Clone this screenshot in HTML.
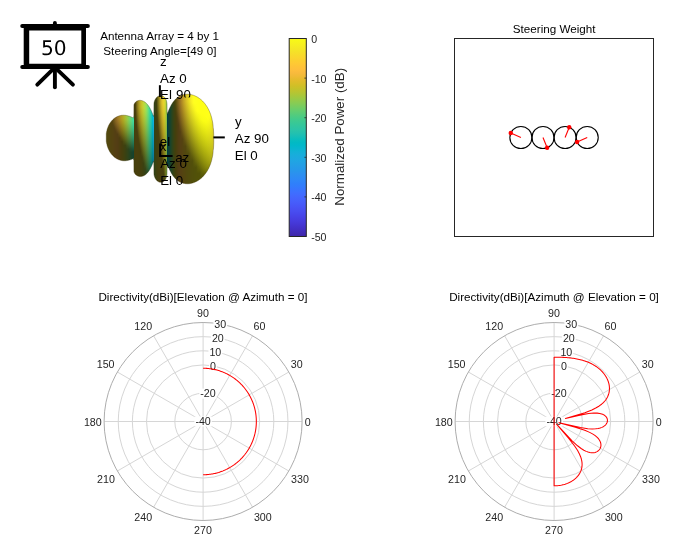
<!DOCTYPE html>
<html lang="en"><head><meta charset="utf-8"><title>Antenna Array Steering</title>
<style>html,body{margin:0;padding:0;background:#fff}svg{display:block;will-change:transform}text{font-family:"Liberation Sans", Arial, Helvetica, sans-serif;fill:#262626}.tk{font-size:10.67px}.tt{font-size:11.66px;fill:#000}.ax{font-size:13.33px;fill:#000}.cb{font-size:10.6px}.cl{font-size:13.33px}</style></head><body>
<svg width="692" height="546" viewBox="0 0 692 546">
<rect width="692" height="546" fill="#fff"/>
<defs><clipPath id="sil"><polygon id="silp" points="106.25,133.73 106.50,132.15 106.75,130.94 107.00,129.95 107.25,129.10 107.50,128.32 107.75,127.63 108.00,126.97 108.25,126.39 108.50,125.83 108.75,125.32 109.00,124.82 109.25,124.37 109.50,123.93 109.75,123.51 110.00,123.11 110.25,122.73 110.50,122.38 110.75,122.03 111.00,121.70 111.25,121.38 111.50,121.08 111.75,120.79 112.00,120.51 112.25,120.24 112.50,119.98 112.75,119.72 113.00,119.48 113.25,119.25 113.50,119.04 113.75,118.82 114.00,118.61 114.25,118.42 114.50,118.22 114.75,118.04 115.00,117.87 115.25,117.70 115.50,117.54 115.75,117.38 116.00,117.23 116.25,117.09 116.50,116.95 116.75,116.82 117.00,116.70 117.25,116.58 117.50,116.46 117.75,116.36 118.00,116.25 118.25,116.16 118.50,116.06 118.75,115.98 119.00,115.89 119.25,115.82 119.50,115.74 119.75,115.68 120.00,115.61 120.25,115.56 120.50,115.50 120.75,115.45 121.00,115.41 121.25,115.37 121.50,115.33 121.75,115.30 122.00,115.28 122.25,115.25 122.50,115.24 122.75,115.22 123.00,115.21 123.25,115.21 123.50,115.20 123.75,115.21 124.00,115.21 124.25,115.22 124.50,115.24 124.75,115.25 125.00,115.27 125.25,115.30 125.50,115.33 125.75,115.36 126.00,115.40 126.25,115.44 126.50,115.48 126.75,115.53 127.00,115.58 127.25,115.63 127.50,115.69 127.75,115.75 128.00,115.82 128.25,115.89 128.50,115.96 128.75,116.03 129.00,116.11 129.25,116.19 129.50,116.28 129.75,116.36 130.00,116.45 130.25,116.55 130.50,116.64 130.75,116.75 131.00,116.85 131.25,116.95 131.50,117.06 131.75,117.17 132.00,117.28 132.25,117.41 132.50,117.52 132.75,117.65 133.00,117.77 133.25,117.90 133.50,118.03 133.75,105.34 134.00,104.52 134.25,103.93 134.50,103.46 134.75,103.07 135.00,102.73 135.25,102.43 135.50,102.17 135.75,101.93 136.00,101.72 136.25,101.53 136.50,101.36 136.75,101.21 137.00,101.07 137.25,100.95 137.50,100.84 137.75,100.75 138.00,100.66 138.25,100.59 138.50,100.53 138.75,100.48 139.00,100.44 139.25,100.40 139.50,100.38 139.75,100.37 140.00,100.37 140.25,100.37 140.50,100.39 140.75,100.41 141.00,100.44 141.25,100.48 141.50,100.53 141.75,100.59 142.00,100.66 142.25,100.74 142.50,100.82 142.75,100.91 143.00,101.02 143.25,101.13 143.50,101.25 143.75,101.38 144.00,101.51 144.25,101.66 144.50,101.82 144.75,101.99 145.00,102.17 145.25,102.35 145.50,102.55 145.75,102.76 146.00,102.98 146.25,103.21 146.50,103.45 146.75,103.71 147.00,103.97 147.25,104.26 147.50,104.55 147.75,104.85 148.00,105.17 148.25,105.51 148.50,105.86 148.75,106.22 149.00,106.60 149.25,106.99 149.50,107.40 149.75,107.83 150.00,108.27 150.25,108.74 150.50,109.22 150.75,109.72 151.00,110.24 151.25,110.77 151.50,111.34 151.75,111.91 152.00,112.50 152.25,113.13 152.50,113.76 152.75,114.43 153.00,115.09 153.25,115.79 153.50,116.50 153.75,104.39 154.00,102.84 154.25,101.82 154.50,101.02 154.75,100.37 155.00,99.81 155.25,99.33 155.50,98.91 155.75,98.53 156.00,98.19 156.25,97.88 156.50,97.60 156.75,97.35 157.00,97.13 157.25,96.92 157.50,96.74 157.75,96.57 158.00,96.42 158.25,96.28 158.50,96.16 158.75,96.06 159.00,95.97 159.25,95.89 159.50,95.82 159.75,95.77 160.00,95.73 160.25,95.70 160.50,95.68 160.75,95.67 161.00,95.67 161.25,95.69 161.50,95.72 161.75,95.76 162.00,95.82 162.25,95.89 162.50,95.97 162.75,96.07 163.00,96.18 163.25,96.31 163.50,96.46 163.75,96.63 164.00,96.82 164.25,97.03 164.50,97.27 164.75,97.54 165.00,97.84 165.25,98.18 165.50,98.57 165.75,99.01 166.00,99.54 166.25,100.16 166.50,100.95 166.75,102.02 167.00,103.96 167.25,114.15 167.50,113.46 167.75,112.77 168.00,112.11 168.25,111.47 168.50,110.84 168.75,110.22 169.00,109.62 169.25,109.05 169.50,108.48 169.75,107.95 170.00,107.41 170.25,106.90 170.50,106.41 170.75,105.93 171.00,105.47 171.25,105.01 171.50,104.57 171.75,104.15 172.00,103.75 172.25,103.35 172.50,102.97 172.75,102.60 173.00,102.24 173.25,101.90 173.50,101.57 173.75,101.25 174.00,100.93 174.25,100.63 174.50,100.34 174.75,100.06 175.00,99.79 175.25,99.52 175.50,99.27 175.75,99.03 176.00,98.79 176.25,98.56 176.50,98.34 176.75,98.13 177.00,97.92 177.25,97.72 177.50,97.53 177.75,97.35 178.00,97.17 178.25,97.00 178.50,96.84 178.75,96.68 179.00,96.52 179.25,96.38 179.50,96.24 179.75,96.10 180.00,95.97 180.25,95.85 180.50,95.73 180.75,95.61 181.00,95.51 181.25,95.40 181.50,95.30 181.75,95.21 182.00,95.12 182.25,95.04 182.50,94.96 182.75,94.88 183.00,94.81 183.25,94.74 183.50,94.68 183.75,94.62 184.00,94.57 184.25,94.52 184.50,94.47 184.75,94.43 185.00,94.39 185.25,94.36 185.50,94.33 185.75,94.30 186.00,94.28 186.25,94.26 186.50,94.25 186.75,94.24 187.00,94.23 187.25,94.23 187.50,94.23 187.75,94.23 188.00,94.24 188.25,94.25 188.50,94.26 188.75,94.28 189.00,94.30 189.25,94.33 189.50,94.36 189.75,94.39 190.00,94.43 190.25,94.46 190.50,94.51 190.75,94.55 191.00,94.60 191.25,94.66 191.50,94.71 191.75,94.77 192.00,94.84 192.25,94.90 192.50,94.97 192.75,95.05 193.00,95.13 193.25,95.21 193.50,95.29 193.75,95.38 194.00,95.47 194.25,95.57 194.50,95.67 194.75,95.77 195.00,95.88 195.25,95.99 195.50,96.10 195.75,96.22 196.00,96.34 196.25,96.47 196.50,96.60 196.75,96.73 197.00,96.87 197.25,97.01 197.50,97.15 197.75,97.30 198.00,97.46 198.25,97.61 198.50,97.78 198.75,97.94 199.00,98.12 199.25,98.29 199.50,98.47 199.75,98.66 200.00,98.85 200.25,99.04 200.50,99.24 200.75,99.45 201.00,99.65 201.25,99.87 201.50,100.09 201.75,100.32 202.00,100.55 202.25,100.79 202.50,101.03 202.75,101.28 203.00,101.54 203.25,101.80 203.50,102.07 203.75,102.34 204.00,102.63 204.25,102.92 204.50,103.22 204.75,103.52 205.00,103.84 205.25,104.16 205.50,104.49 205.75,104.84 206.00,105.19 206.25,105.55 206.50,105.92 206.75,106.30 207.00,106.70 207.25,107.11 207.50,107.53 207.75,107.96 208.00,108.41 208.25,108.88 208.50,109.36 208.75,109.86 209.00,110.38 209.25,110.92 209.50,111.49 209.75,112.08 210.00,112.70 210.25,113.35 210.50,114.03 210.75,114.76 211.00,115.53 211.25,116.34 211.50,117.22 211.75,118.17 212.00,119.21 212.25,120.35 212.50,121.62 212.75,123.08 213.00,124.81 213.25,126.94 213.50,129.86 213.75,135.51 213.75,142.49 213.50,148.14 213.25,151.06 213.00,153.19 212.75,154.92 212.50,156.38 212.25,157.65 212.00,158.79 211.75,159.83 211.50,160.78 211.25,161.66 211.00,162.47 210.75,163.24 210.50,163.97 210.25,164.65 210.00,165.30 209.75,165.92 209.50,166.51 209.25,167.08 209.00,167.62 208.75,168.14 208.50,168.64 208.25,169.12 208.00,169.59 207.75,170.04 207.50,170.47 207.25,170.89 207.00,171.30 206.75,171.70 206.50,172.08 206.25,172.45 206.00,172.81 205.75,173.16 205.50,173.51 205.25,173.84 205.00,174.16 204.75,174.48 204.50,174.78 204.25,175.08 204.00,175.37 203.75,175.66 203.50,175.93 203.25,176.20 203.00,176.46 202.75,176.72 202.50,176.97 202.25,177.21 202.00,177.45 201.75,177.68 201.50,177.91 201.25,178.13 201.00,178.35 200.75,178.55 200.50,178.76 200.25,178.96 200.00,179.15 199.75,179.34 199.50,179.53 199.25,179.71 199.00,179.88 198.75,180.06 198.50,180.22 198.25,180.39 198.00,180.54 197.75,180.70 197.50,180.85 197.25,180.99 197.00,181.13 196.75,181.27 196.50,181.40 196.25,181.53 196.00,181.66 195.75,181.78 195.50,181.90 195.25,182.01 195.00,182.12 194.75,182.23 194.50,182.33 194.25,182.43 194.00,182.53 193.75,182.62 193.50,182.71 193.25,182.79 193.00,182.87 192.75,182.95 192.50,183.03 192.25,183.10 192.00,183.16 191.75,183.23 191.50,183.29 191.25,183.34 191.00,183.40 190.75,183.45 190.50,183.49 190.25,183.54 190.00,183.57 189.75,183.61 189.50,183.64 189.25,183.67 189.00,183.70 188.75,183.72 188.50,183.74 188.25,183.75 188.00,183.76 187.75,183.77 187.50,183.77 187.25,183.77 187.00,183.77 186.75,183.76 186.50,183.75 186.25,183.74 186.00,183.72 185.75,183.70 185.50,183.67 185.25,183.64 185.00,183.61 184.75,183.57 184.50,183.53 184.25,183.48 184.00,183.43 183.75,183.38 183.50,183.32 183.25,183.26 183.00,183.19 182.75,183.12 182.50,183.04 182.25,182.96 182.00,182.88 181.75,182.79 181.50,182.70 181.25,182.60 181.00,182.49 180.75,182.39 180.50,182.27 180.25,182.15 180.00,182.03 179.75,181.90 179.50,181.76 179.25,181.62 179.00,181.48 178.75,181.32 178.50,181.16 178.25,181.00 178.00,180.83 177.75,180.65 177.50,180.47 177.25,180.28 177.00,180.08 176.75,179.87 176.50,179.66 176.25,179.44 176.00,179.21 175.75,178.97 175.50,178.73 175.25,178.48 175.00,178.21 174.75,177.94 174.50,177.66 174.25,177.37 174.00,177.07 173.75,176.75 173.50,176.43 173.25,176.10 173.00,175.76 172.75,175.40 172.50,175.03 172.25,174.65 172.00,174.25 171.75,173.85 171.50,173.43 171.25,172.99 171.00,172.53 170.75,172.07 170.50,171.59 170.25,171.10 170.00,170.59 169.75,170.05 169.50,169.52 169.25,168.95 169.00,168.38 168.75,167.78 168.50,167.16 168.25,166.53 168.00,165.89 167.75,165.23 167.50,164.54 167.25,163.85 167.00,174.04 166.75,175.98 166.50,177.05 166.25,177.84 166.00,178.46 165.75,178.99 165.50,179.43 165.25,179.82 165.00,180.16 164.75,180.46 164.50,180.73 164.25,180.97 164.00,181.18 163.75,181.37 163.50,181.54 163.25,181.69 163.00,181.82 162.75,181.93 162.50,182.03 162.25,182.11 162.00,182.18 161.75,182.24 161.50,182.28 161.25,182.31 161.00,182.33 160.75,182.33 160.50,182.32 160.25,182.30 160.00,182.27 159.75,182.21 159.50,182.15 159.25,182.07 159.00,181.98 158.75,181.87 158.50,181.75 158.25,181.62 158.00,181.47 157.75,181.31 157.50,181.12 157.25,180.92 157.00,180.70 156.75,180.46 156.50,180.20 156.25,179.91 156.00,179.59 155.75,179.23 155.50,178.84 155.25,178.40 155.00,177.90 154.75,177.33 154.50,176.66 154.25,175.86 154.00,174.82 153.75,173.26 153.50,161.13 153.25,161.83 153.00,162.51 152.75,163.16 152.50,163.81 152.25,164.43 152.00,165.04 151.75,165.63 151.50,166.18 151.25,166.73 151.00,167.25 150.75,167.75 150.50,168.24 150.25,168.71 150.00,169.16 149.75,169.59 149.50,170.01 149.25,170.40 149.00,170.78 148.75,171.14 148.50,171.49 148.25,171.83 148.00,172.15 147.75,172.46 147.50,172.74 147.25,173.02 147.00,173.29 146.75,173.54 146.50,173.78 146.25,174.01 146.00,174.23 145.75,174.43 145.50,174.63 145.25,174.81 145.00,174.98 144.75,175.15 144.50,175.30 144.25,175.44 144.00,175.58 143.75,175.70 143.50,175.82 143.25,175.92 143.00,176.02 142.75,176.11 142.50,176.19 142.25,176.26 142.00,176.32 141.75,176.37 141.50,176.42 141.25,176.45 141.00,176.48 140.75,176.50 140.50,176.51 140.25,176.51 140.00,176.50 139.75,176.48 139.50,176.45 139.25,176.42 139.00,176.37 138.75,176.32 138.50,176.25 138.25,176.18 138.00,176.09 137.75,175.99 137.50,175.88 137.25,175.76 137.00,175.62 136.75,175.47 136.50,175.30 136.25,175.12 136.00,174.92 135.75,174.69 135.50,174.44 135.25,174.16 135.00,173.85 134.75,173.50 134.50,173.09 134.25,172.60 134.00,172.00 133.75,171.17 133.50,158.47 133.25,158.58 133.00,158.69 132.75,158.81 132.50,158.92 132.25,159.02 132.00,159.13 131.75,159.22 131.50,159.32 131.25,159.41 131.00,159.51 130.75,159.59 130.50,159.68 130.25,159.76 130.00,159.84 129.75,159.92 129.50,159.99 129.25,160.06 129.00,160.13 128.75,160.19 128.50,160.25 128.25,160.31 128.00,160.37 127.75,160.42 127.50,160.46 127.25,160.51 127.00,160.55 126.75,160.58 126.50,160.62 126.25,160.65 126.00,160.67 125.75,160.69 125.50,160.71 125.25,160.73 125.00,160.74 124.75,160.75 124.50,160.75 124.25,160.75 124.00,160.74 123.75,160.74 123.50,160.72 123.25,160.71 123.00,160.69 122.75,160.66 122.50,160.64 122.25,160.60 122.00,160.57 121.75,160.53 121.50,160.48 121.25,160.43 121.00,160.38 120.75,160.32 120.50,160.25 120.25,160.19 120.00,160.12 119.75,160.04 119.50,159.96 119.25,159.87 119.00,159.78 118.75,159.68 118.50,159.58 118.25,159.47 118.00,159.36 117.75,159.25 117.50,159.12 117.25,158.99 117.00,158.86 116.75,158.72 116.50,158.58 116.25,158.43 116.00,158.27 115.75,158.11 115.50,157.94 115.25,157.76 115.00,157.58 114.75,157.39 114.50,157.19 114.25,156.99 114.00,156.77 113.75,156.56 113.50,156.33 113.25,156.09 113.00,155.85 112.75,155.59 112.50,155.33 112.25,155.05 112.00,154.77 111.75,154.47 111.50,154.17 111.25,153.85 111.00,153.52 110.75,153.18 110.50,152.81 110.25,152.44 110.00,152.05 109.75,151.64 109.50,151.21 109.25,150.75 109.00,150.28 108.75,149.77 108.50,149.24 108.25,148.67 108.00,148.07 107.75,147.41 107.50,146.70 107.25,145.91 107.00,145.05 106.75,144.04 106.50,142.81 106.25,141.22"/></clipPath><linearGradient id="g0" gradientUnits="userSpaceOnUse" x1="0" y1="132.15" x2="0" y2="142.81"><stop offset="0.000" stop-color="#51490e"/><stop offset="0.083" stop-color="#51490e"/><stop offset="0.167" stop-color="#51490e"/><stop offset="0.250" stop-color="#51490e"/><stop offset="0.333" stop-color="#51490e"/><stop offset="0.417" stop-color="#51490e"/><stop offset="0.500" stop-color="#51490e"/><stop offset="0.583" stop-color="#51490e"/><stop offset="0.667" stop-color="#51490e"/><stop offset="0.750" stop-color="#51490e"/><stop offset="0.833" stop-color="#51490e"/><stop offset="0.917" stop-color="#51490e"/><stop offset="1.000" stop-color="#51490e"/></linearGradient><linearGradient id="g1" gradientUnits="userSpaceOnUse" x1="0" y1="128.32" x2="0" y2="146.70"><stop offset="0.000" stop-color="#52480e"/><stop offset="0.083" stop-color="#52480e"/><stop offset="0.167" stop-color="#52480e"/><stop offset="0.250" stop-color="#52480e"/><stop offset="0.333" stop-color="#52480e"/><stop offset="0.417" stop-color="#52480e"/><stop offset="0.500" stop-color="#52480e"/><stop offset="0.583" stop-color="#52480e"/><stop offset="0.667" stop-color="#52480e"/><stop offset="0.750" stop-color="#52480e"/><stop offset="0.833" stop-color="#52480e"/><stop offset="0.917" stop-color="#52480e"/><stop offset="1.000" stop-color="#52480e"/></linearGradient><linearGradient id="g2" gradientUnits="userSpaceOnUse" x1="0" y1="125.83" x2="0" y2="149.24"><stop offset="0.000" stop-color="#52470e"/><stop offset="0.083" stop-color="#52470e"/><stop offset="0.167" stop-color="#52470e"/><stop offset="0.250" stop-color="#52470e"/><stop offset="0.333" stop-color="#52470e"/><stop offset="0.417" stop-color="#52470e"/><stop offset="0.500" stop-color="#52470e"/><stop offset="0.583" stop-color="#52470e"/><stop offset="0.667" stop-color="#52470e"/><stop offset="0.750" stop-color="#52470e"/><stop offset="0.833" stop-color="#52470e"/><stop offset="0.917" stop-color="#52470e"/><stop offset="1.000" stop-color="#52470e"/></linearGradient><linearGradient id="g3" gradientUnits="userSpaceOnUse" x1="0" y1="123.93" x2="0" y2="151.21"><stop offset="0.000" stop-color="#52460f"/><stop offset="0.083" stop-color="#52460f"/><stop offset="0.167" stop-color="#52460f"/><stop offset="0.250" stop-color="#52460f"/><stop offset="0.333" stop-color="#52460f"/><stop offset="0.417" stop-color="#52460f"/><stop offset="0.500" stop-color="#52460f"/><stop offset="0.583" stop-color="#52460f"/><stop offset="0.667" stop-color="#52460f"/><stop offset="0.750" stop-color="#52460f"/><stop offset="0.833" stop-color="#52460f"/><stop offset="0.917" stop-color="#52460f"/><stop offset="1.000" stop-color="#52460f"/></linearGradient><linearGradient id="g4" gradientUnits="userSpaceOnUse" x1="0" y1="122.38" x2="0" y2="152.81"><stop offset="0.000" stop-color="#534510"/><stop offset="0.083" stop-color="#534510"/><stop offset="0.167" stop-color="#534510"/><stop offset="0.250" stop-color="#534510"/><stop offset="0.333" stop-color="#534510"/><stop offset="0.417" stop-color="#534510"/><stop offset="0.500" stop-color="#534510"/><stop offset="0.583" stop-color="#534510"/><stop offset="0.667" stop-color="#534510"/><stop offset="0.750" stop-color="#534510"/><stop offset="0.833" stop-color="#534510"/><stop offset="0.917" stop-color="#534510"/><stop offset="1.000" stop-color="#534510"/></linearGradient><linearGradient id="g5" gradientUnits="userSpaceOnUse" x1="0" y1="121.08" x2="0" y2="154.17"><stop offset="0.000" stop-color="#534410"/><stop offset="0.083" stop-color="#534410"/><stop offset="0.167" stop-color="#534410"/><stop offset="0.250" stop-color="#534410"/><stop offset="0.333" stop-color="#534410"/><stop offset="0.417" stop-color="#534410"/><stop offset="0.500" stop-color="#534410"/><stop offset="0.583" stop-color="#534410"/><stop offset="0.667" stop-color="#534410"/><stop offset="0.750" stop-color="#534410"/><stop offset="0.833" stop-color="#534410"/><stop offset="0.917" stop-color="#534410"/><stop offset="1.000" stop-color="#534410"/></linearGradient><linearGradient id="g6" gradientUnits="userSpaceOnUse" x1="0" y1="119.98" x2="0" y2="155.33"><stop offset="0.000" stop-color="#574612"/><stop offset="0.083" stop-color="#564411"/><stop offset="0.167" stop-color="#544311"/><stop offset="0.250" stop-color="#544311"/><stop offset="0.333" stop-color="#544311"/><stop offset="0.417" stop-color="#544311"/><stop offset="0.500" stop-color="#544311"/><stop offset="0.583" stop-color="#544311"/><stop offset="0.667" stop-color="#544311"/><stop offset="0.750" stop-color="#544311"/><stop offset="0.833" stop-color="#544311"/><stop offset="0.917" stop-color="#544311"/><stop offset="1.000" stop-color="#544311"/></linearGradient><linearGradient id="g7" gradientUnits="userSpaceOnUse" x1="0" y1="119.04" x2="0" y2="156.33"><stop offset="0.000" stop-color="#665016"/><stop offset="0.083" stop-color="#654f15"/><stop offset="0.167" stop-color="#584513"/><stop offset="0.250" stop-color="#544212"/><stop offset="0.333" stop-color="#544212"/><stop offset="0.417" stop-color="#544212"/><stop offset="0.500" stop-color="#544212"/><stop offset="0.583" stop-color="#544212"/><stop offset="0.667" stop-color="#544212"/><stop offset="0.750" stop-color="#544212"/><stop offset="0.833" stop-color="#544212"/><stop offset="0.917" stop-color="#544212"/><stop offset="1.000" stop-color="#544212"/></linearGradient><linearGradient id="g8" gradientUnits="userSpaceOnUse" x1="0" y1="118.22" x2="0" y2="157.19"><stop offset="0.000" stop-color="#755a1a"/><stop offset="0.083" stop-color="#73591a"/><stop offset="0.167" stop-color="#664e17"/><stop offset="0.250" stop-color="#574213"/><stop offset="0.333" stop-color="#544013"/><stop offset="0.417" stop-color="#544013"/><stop offset="0.500" stop-color="#544013"/><stop offset="0.583" stop-color="#544013"/><stop offset="0.667" stop-color="#544013"/><stop offset="0.750" stop-color="#544013"/><stop offset="0.833" stop-color="#544013"/><stop offset="0.917" stop-color="#544013"/><stop offset="1.000" stop-color="#544013"/></linearGradient><linearGradient id="g9" gradientUnits="userSpaceOnUse" x1="0" y1="117.54" x2="0" y2="157.94"><stop offset="0.000" stop-color="#83631f"/><stop offset="0.083" stop-color="#82621e"/><stop offset="0.167" stop-color="#74571b"/><stop offset="0.250" stop-color="#634b17"/><stop offset="0.333" stop-color="#543f13"/><stop offset="0.417" stop-color="#543f13"/><stop offset="0.500" stop-color="#543f13"/><stop offset="0.583" stop-color="#543f13"/><stop offset="0.667" stop-color="#543f13"/><stop offset="0.750" stop-color="#543f13"/><stop offset="0.833" stop-color="#543f13"/><stop offset="0.917" stop-color="#543f13"/><stop offset="1.000" stop-color="#543f13"/></linearGradient><linearGradient id="g10" gradientUnits="userSpaceOnUse" x1="0" y1="116.95" x2="0" y2="158.58"><stop offset="0.000" stop-color="#906c23"/><stop offset="0.083" stop-color="#8e6a22"/><stop offset="0.167" stop-color="#80601f"/><stop offset="0.250" stop-color="#6f531b"/><stop offset="0.333" stop-color="#5c4516"/><stop offset="0.417" stop-color="#533e14"/><stop offset="0.500" stop-color="#533e14"/><stop offset="0.583" stop-color="#533e14"/><stop offset="0.667" stop-color="#533e14"/><stop offset="0.750" stop-color="#533e14"/><stop offset="0.833" stop-color="#533e14"/><stop offset="0.917" stop-color="#533e14"/><stop offset="1.000" stop-color="#533e14"/></linearGradient><linearGradient id="g11" gradientUnits="userSpaceOnUse" x1="0" y1="116.46" x2="0" y2="159.12"><stop offset="0.000" stop-color="#9b7526"/><stop offset="0.083" stop-color="#997325"/><stop offset="0.167" stop-color="#8a6822"/><stop offset="0.250" stop-color="#795b1e"/><stop offset="0.333" stop-color="#664d19"/><stop offset="0.417" stop-color="#523e14"/><stop offset="0.500" stop-color="#523d14"/><stop offset="0.583" stop-color="#523d14"/><stop offset="0.667" stop-color="#523d14"/><stop offset="0.750" stop-color="#523d14"/><stop offset="0.833" stop-color="#523d14"/><stop offset="0.917" stop-color="#523d14"/><stop offset="1.000" stop-color="#523d14"/></linearGradient><linearGradient id="g12" gradientUnits="userSpaceOnUse" x1="0" y1="116.06" x2="0" y2="159.58"><stop offset="0.000" stop-color="#a47e25"/><stop offset="0.083" stop-color="#a27d25"/><stop offset="0.167" stop-color="#937122"/><stop offset="0.250" stop-color="#81641e"/><stop offset="0.333" stop-color="#6e5519"/><stop offset="0.417" stop-color="#5a4515"/><stop offset="0.500" stop-color="#503d12"/><stop offset="0.583" stop-color="#503d12"/><stop offset="0.667" stop-color="#503d12"/><stop offset="0.750" stop-color="#503d12"/><stop offset="0.833" stop-color="#503d12"/><stop offset="0.917" stop-color="#503d12"/><stop offset="1.000" stop-color="#503d12"/></linearGradient><linearGradient id="g13" gradientUnits="userSpaceOnUse" x1="0" y1="115.74" x2="0" y2="159.96"><stop offset="0.000" stop-color="#ab8824"/><stop offset="0.083" stop-color="#a98623"/><stop offset="0.167" stop-color="#9a7b20"/><stop offset="0.250" stop-color="#896d1d"/><stop offset="0.333" stop-color="#765e19"/><stop offset="0.417" stop-color="#614d14"/><stop offset="0.500" stop-color="#4d3e10"/><stop offset="0.583" stop-color="#4d3e10"/><stop offset="0.667" stop-color="#4d3e10"/><stop offset="0.750" stop-color="#4d3e10"/><stop offset="0.833" stop-color="#4d3e10"/><stop offset="0.917" stop-color="#4d3e10"/><stop offset="1.000" stop-color="#4d3e10"/></linearGradient><linearGradient id="g14" gradientUnits="userSpaceOnUse" x1="0" y1="115.50" x2="0" y2="160.25"><stop offset="0.000" stop-color="#b09222"/><stop offset="0.083" stop-color="#ae9022"/><stop offset="0.167" stop-color="#a0841f"/><stop offset="0.250" stop-color="#8e761b"/><stop offset="0.333" stop-color="#7c6618"/><stop offset="0.417" stop-color="#685614"/><stop offset="0.500" stop-color="#534410"/><stop offset="0.583" stop-color="#4b3e0e"/><stop offset="0.667" stop-color="#4b3e0e"/><stop offset="0.750" stop-color="#4b3e0e"/><stop offset="0.833" stop-color="#4b3e0e"/><stop offset="0.917" stop-color="#4b3e0e"/><stop offset="1.000" stop-color="#4b3e0e"/></linearGradient><linearGradient id="g15" gradientUnits="userSpaceOnUse" x1="0" y1="115.33" x2="0" y2="160.48"><stop offset="0.000" stop-color="#b39b21"/><stop offset="0.083" stop-color="#b19a21"/><stop offset="0.167" stop-color="#a38d1e"/><stop offset="0.250" stop-color="#927f1b"/><stop offset="0.333" stop-color="#806f18"/><stop offset="0.417" stop-color="#6c5e14"/><stop offset="0.500" stop-color="#584c10"/><stop offset="0.583" stop-color="#483e0d"/><stop offset="0.667" stop-color="#483e0d"/><stop offset="0.750" stop-color="#483e0d"/><stop offset="0.833" stop-color="#483e0d"/><stop offset="0.917" stop-color="#483e0d"/><stop offset="1.000" stop-color="#483e0d"/></linearGradient><linearGradient id="g16" gradientUnits="userSpaceOnUse" x1="0" y1="115.24" x2="0" y2="160.64"><stop offset="0.000" stop-color="#b4a522"/><stop offset="0.083" stop-color="#b2a321"/><stop offset="0.167" stop-color="#a5971f"/><stop offset="0.250" stop-color="#94881c"/><stop offset="0.333" stop-color="#837718"/><stop offset="0.417" stop-color="#706615"/><stop offset="0.500" stop-color="#5c5411"/><stop offset="0.583" stop-color="#47410d"/><stop offset="0.667" stop-color="#453f0d"/><stop offset="0.750" stop-color="#453f0d"/><stop offset="0.833" stop-color="#453f0d"/><stop offset="0.917" stop-color="#453f0d"/><stop offset="1.000" stop-color="#453f0d"/></linearGradient><linearGradient id="g17" gradientUnits="userSpaceOnUse" x1="0" y1="115.20" x2="0" y2="160.72"><stop offset="0.000" stop-color="#b3ae25"/><stop offset="0.083" stop-color="#b1ac25"/><stop offset="0.167" stop-color="#a49f22"/><stop offset="0.250" stop-color="#94901f"/><stop offset="0.333" stop-color="#83801c"/><stop offset="0.417" stop-color="#716e18"/><stop offset="0.500" stop-color="#5e5c14"/><stop offset="0.583" stop-color="#4b4910"/><stop offset="0.667" stop-color="#42400e"/><stop offset="0.750" stop-color="#42400e"/><stop offset="0.833" stop-color="#42400e"/><stop offset="0.917" stop-color="#42400e"/><stop offset="1.000" stop-color="#42400e"/></linearGradient><linearGradient id="g18" gradientUnits="userSpaceOnUse" x1="0" y1="115.24" x2="0" y2="160.75"><stop offset="0.000" stop-color="#afb72c"/><stop offset="0.083" stop-color="#adb52c"/><stop offset="0.167" stop-color="#a1a829"/><stop offset="0.250" stop-color="#929925"/><stop offset="0.333" stop-color="#828821"/><stop offset="0.417" stop-color="#71761d"/><stop offset="0.500" stop-color="#5f6418"/><stop offset="0.583" stop-color="#4d5013"/><stop offset="0.667" stop-color="#3e4110"/><stop offset="0.750" stop-color="#3e4110"/><stop offset="0.833" stop-color="#3e4110"/><stop offset="0.917" stop-color="#3e4110"/><stop offset="1.000" stop-color="#3e4110"/></linearGradient><linearGradient id="g19" gradientUnits="userSpaceOnUse" x1="0" y1="115.33" x2="0" y2="160.71"><stop offset="0.000" stop-color="#a8bf35"/><stop offset="0.083" stop-color="#a7bd34"/><stop offset="0.167" stop-color="#9bb031"/><stop offset="0.250" stop-color="#8ea12c"/><stop offset="0.333" stop-color="#7f9028"/><stop offset="0.417" stop-color="#6f7e23"/><stop offset="0.500" stop-color="#5f6b1e"/><stop offset="0.583" stop-color="#4d5718"/><stop offset="0.667" stop-color="#3b4312"/><stop offset="0.750" stop-color="#3a4112"/><stop offset="0.833" stop-color="#3a4112"/><stop offset="0.917" stop-color="#3a4112"/><stop offset="1.000" stop-color="#3a4112"/></linearGradient><linearGradient id="g20" gradientUnits="userSpaceOnUse" x1="0" y1="115.48" x2="0" y2="160.62"><stop offset="0.000" stop-color="#a0c63f"/><stop offset="0.083" stop-color="#9ec43f"/><stop offset="0.167" stop-color="#94b73a"/><stop offset="0.250" stop-color="#87a835"/><stop offset="0.333" stop-color="#7a9730"/><stop offset="0.417" stop-color="#6b852a"/><stop offset="0.500" stop-color="#5c7224"/><stop offset="0.583" stop-color="#4c5e1e"/><stop offset="0.667" stop-color="#3b4a18"/><stop offset="0.750" stop-color="#354215"/><stop offset="0.833" stop-color="#354215"/><stop offset="0.917" stop-color="#354215"/><stop offset="1.000" stop-color="#354215"/></linearGradient><linearGradient id="g21" gradientUnits="userSpaceOnUse" x1="0" y1="115.69" x2="0" y2="160.46"><stop offset="0.000" stop-color="#95cd4c"/><stop offset="0.083" stop-color="#94cb4b"/><stop offset="0.167" stop-color="#8abe46"/><stop offset="0.250" stop-color="#7fae40"/><stop offset="0.333" stop-color="#739d3a"/><stop offset="0.417" stop-color="#668c34"/><stop offset="0.500" stop-color="#58792d"/><stop offset="0.583" stop-color="#4a6525"/><stop offset="0.667" stop-color="#3b501e"/><stop offset="0.750" stop-color="#314319"/><stop offset="0.833" stop-color="#314319"/><stop offset="0.917" stop-color="#314319"/><stop offset="1.000" stop-color="#314319"/></linearGradient><linearGradient id="g22" gradientUnits="userSpaceOnUse" x1="0" y1="115.96" x2="0" y2="160.25"><stop offset="0.000" stop-color="#88d259"/><stop offset="0.083" stop-color="#87d058"/><stop offset="0.167" stop-color="#7fc353"/><stop offset="0.250" stop-color="#75b44c"/><stop offset="0.333" stop-color="#6aa345"/><stop offset="0.417" stop-color="#5e913d"/><stop offset="0.500" stop-color="#527f36"/><stop offset="0.583" stop-color="#456b2d"/><stop offset="0.667" stop-color="#385625"/><stop offset="0.750" stop-color="#2c431c"/><stop offset="0.833" stop-color="#2c431c"/><stop offset="0.917" stop-color="#2c431c"/><stop offset="1.000" stop-color="#2c431c"/></linearGradient><linearGradient id="g23" gradientUnits="userSpaceOnUse" x1="0" y1="116.28" x2="0" y2="159.99"><stop offset="0.000" stop-color="#7ad667"/><stop offset="0.083" stop-color="#79d566"/><stop offset="0.167" stop-color="#71c85f"/><stop offset="0.250" stop-color="#69b858"/><stop offset="0.333" stop-color="#5fa850"/><stop offset="0.417" stop-color="#559648"/><stop offset="0.500" stop-color="#4b843f"/><stop offset="0.583" stop-color="#407036"/><stop offset="0.667" stop-color="#345c2c"/><stop offset="0.750" stop-color="#284722"/><stop offset="0.833" stop-color="#264320"/><stop offset="0.917" stop-color="#264320"/><stop offset="1.000" stop-color="#264320"/></linearGradient><linearGradient id="g24" gradientUnits="userSpaceOnUse" x1="0" y1="116.64" x2="0" y2="159.68"><stop offset="0.000" stop-color="#6bd975"/><stop offset="0.083" stop-color="#6ad874"/><stop offset="0.167" stop-color="#64cb6d"/><stop offset="0.250" stop-color="#5dbc65"/><stop offset="0.333" stop-color="#54ac5c"/><stop offset="0.417" stop-color="#4c9a53"/><stop offset="0.500" stop-color="#438849"/><stop offset="0.583" stop-color="#3a753f"/><stop offset="0.667" stop-color="#306134"/><stop offset="0.750" stop-color="#254c29"/><stop offset="0.833" stop-color="#214424"/><stop offset="0.917" stop-color="#214424"/><stop offset="1.000" stop-color="#214424"/></linearGradient><linearGradient id="g25" gradientUnits="userSpaceOnUse" x1="0" y1="117.06" x2="0" y2="159.32"><stop offset="0.000" stop-color="#5cdb84"/><stop offset="0.083" stop-color="#5cd983"/><stop offset="0.167" stop-color="#56cd7b"/><stop offset="0.250" stop-color="#50be72"/><stop offset="0.333" stop-color="#4aae69"/><stop offset="0.417" stop-color="#429d5e"/><stop offset="0.500" stop-color="#3b8b54"/><stop offset="0.583" stop-color="#337948"/><stop offset="0.667" stop-color="#2b653d"/><stop offset="0.750" stop-color="#225030"/><stop offset="0.833" stop-color="#1c4328"/><stop offset="0.917" stop-color="#1c4328"/><stop offset="1.000" stop-color="#1c4328"/></linearGradient><linearGradient id="g26" gradientUnits="userSpaceOnUse" x1="0" y1="117.52" x2="0" y2="158.92"><stop offset="0.000" stop-color="#4edc91"/><stop offset="0.083" stop-color="#4dda90"/><stop offset="0.167" stop-color="#49ce88"/><stop offset="0.250" stop-color="#44bf7f"/><stop offset="0.333" stop-color="#3eb074"/><stop offset="0.417" stop-color="#389f69"/><stop offset="0.500" stop-color="#328e5e"/><stop offset="0.583" stop-color="#2c7b52"/><stop offset="0.667" stop-color="#256845"/><stop offset="0.750" stop-color="#1e5438"/><stop offset="0.833" stop-color="#18432c"/><stop offset="0.917" stop-color="#18432c"/><stop offset="1.000" stop-color="#18432c"/></linearGradient><linearGradient id="g27" gradientUnits="userSpaceOnUse" x1="0" y1="118.03" x2="0" y2="158.47"><stop offset="0.000" stop-color="#41db9e"/><stop offset="0.083" stop-color="#41da9d"/><stop offset="0.167" stop-color="#3dce95"/><stop offset="0.250" stop-color="#39c08b"/><stop offset="0.333" stop-color="#35b080"/><stop offset="0.417" stop-color="#30a074"/><stop offset="0.500" stop-color="#2b8f68"/><stop offset="0.583" stop-color="#257d5b"/><stop offset="0.667" stop-color="#206b4d"/><stop offset="0.750" stop-color="#1a573f"/><stop offset="0.833" stop-color="#144230"/><stop offset="0.917" stop-color="#144230"/><stop offset="1.000" stop-color="#144230"/></linearGradient><linearGradient id="g28" gradientUnits="userSpaceOnUse" x1="0" y1="103.46" x2="0" y2="173.09"><stop offset="0.000" stop-color="#453f0d"/><stop offset="0.083" stop-color="#453f0d"/><stop offset="0.167" stop-color="#453f0d"/><stop offset="0.250" stop-color="#453f0d"/><stop offset="0.333" stop-color="#453f0d"/><stop offset="0.417" stop-color="#453f0d"/><stop offset="0.500" stop-color="#453f0d"/><stop offset="0.583" stop-color="#453f0d"/><stop offset="0.667" stop-color="#453f0d"/><stop offset="0.750" stop-color="#453f0d"/><stop offset="0.833" stop-color="#453f0d"/><stop offset="0.917" stop-color="#453f0d"/><stop offset="1.000" stop-color="#453f0d"/></linearGradient><linearGradient id="g29" gradientUnits="userSpaceOnUse" x1="0" y1="102.17" x2="0" y2="174.44"><stop offset="0.000" stop-color="#4c430e"/><stop offset="0.083" stop-color="#4b420e"/><stop offset="0.167" stop-color="#473f0d"/><stop offset="0.250" stop-color="#473f0d"/><stop offset="0.333" stop-color="#473f0d"/><stop offset="0.417" stop-color="#473f0d"/><stop offset="0.500" stop-color="#473f0d"/><stop offset="0.583" stop-color="#473f0d"/><stop offset="0.667" stop-color="#473f0d"/><stop offset="0.750" stop-color="#473f0d"/><stop offset="0.833" stop-color="#473f0d"/><stop offset="0.917" stop-color="#473f0d"/><stop offset="1.000" stop-color="#473f0d"/></linearGradient><linearGradient id="g30" gradientUnits="userSpaceOnUse" x1="0" y1="101.36" x2="0" y2="175.30"><stop offset="0.000" stop-color="#6f6115"/><stop offset="0.083" stop-color="#6e6014"/><stop offset="0.167" stop-color="#625512"/><stop offset="0.250" stop-color="#544910"/><stop offset="0.333" stop-color="#483f0d"/><stop offset="0.417" stop-color="#483f0d"/><stop offset="0.500" stop-color="#483f0d"/><stop offset="0.583" stop-color="#483f0d"/><stop offset="0.667" stop-color="#483f0d"/><stop offset="0.750" stop-color="#483f0d"/><stop offset="0.833" stop-color="#483f0d"/><stop offset="0.917" stop-color="#483f0d"/><stop offset="1.000" stop-color="#483f0d"/></linearGradient><linearGradient id="g31" gradientUnits="userSpaceOnUse" x1="0" y1="100.84" x2="0" y2="175.88"><stop offset="0.000" stop-color="#8d7b1a"/><stop offset="0.083" stop-color="#8b791a"/><stop offset="0.167" stop-color="#7e6e17"/><stop offset="0.250" stop-color="#6e6014"/><stop offset="0.333" stop-color="#5d5111"/><stop offset="0.417" stop-color="#4b420e"/><stop offset="0.500" stop-color="#483f0d"/><stop offset="0.583" stop-color="#483f0d"/><stop offset="0.667" stop-color="#483f0d"/><stop offset="0.750" stop-color="#483f0d"/><stop offset="0.833" stop-color="#483f0d"/><stop offset="0.917" stop-color="#483f0d"/><stop offset="1.000" stop-color="#483f0d"/></linearGradient><linearGradient id="g32" gradientUnits="userSpaceOnUse" x1="0" y1="100.53" x2="0" y2="176.25"><stop offset="0.000" stop-color="#a4911f"/><stop offset="0.083" stop-color="#a28f1e"/><stop offset="0.167" stop-color="#94831c"/><stop offset="0.250" stop-color="#847519"/><stop offset="0.333" stop-color="#726515"/><stop offset="0.417" stop-color="#605412"/><stop offset="0.500" stop-color="#4c430e"/><stop offset="0.583" stop-color="#473f0d"/><stop offset="0.667" stop-color="#473f0d"/><stop offset="0.750" stop-color="#473f0d"/><stop offset="0.833" stop-color="#473f0d"/><stop offset="0.917" stop-color="#473f0d"/><stop offset="1.000" stop-color="#473f0d"/></linearGradient><linearGradient id="g33" gradientUnits="userSpaceOnUse" x1="0" y1="100.38" x2="0" y2="176.45"><stop offset="0.000" stop-color="#b6a422"/><stop offset="0.083" stop-color="#b4a322"/><stop offset="0.167" stop-color="#a6961f"/><stop offset="0.250" stop-color="#96871c"/><stop offset="0.333" stop-color="#847719"/><stop offset="0.417" stop-color="#716615"/><stop offset="0.500" stop-color="#5d5411"/><stop offset="0.583" stop-color="#48410d"/><stop offset="0.667" stop-color="#463f0d"/><stop offset="0.750" stop-color="#463f0d"/><stop offset="0.833" stop-color="#463f0d"/><stop offset="0.917" stop-color="#463f0d"/><stop offset="1.000" stop-color="#463f0d"/></linearGradient><linearGradient id="g34" gradientUnits="userSpaceOnUse" x1="0" y1="100.39" x2="0" y2="176.51"><stop offset="0.000" stop-color="#c2b526"/><stop offset="0.083" stop-color="#c0b325"/><stop offset="0.167" stop-color="#b2a623"/><stop offset="0.250" stop-color="#a2971f"/><stop offset="0.333" stop-color="#91871c"/><stop offset="0.417" stop-color="#7e7518"/><stop offset="0.500" stop-color="#6a6315"/><stop offset="0.583" stop-color="#565011"/><stop offset="0.667" stop-color="#443f0d"/><stop offset="0.750" stop-color="#443f0d"/><stop offset="0.833" stop-color="#443f0d"/><stop offset="0.917" stop-color="#443f0d"/><stop offset="1.000" stop-color="#443f0d"/></linearGradient><linearGradient id="g35" gradientUnits="userSpaceOnUse" x1="0" y1="100.53" x2="0" y2="176.42"><stop offset="0.000" stop-color="#c8c22a"/><stop offset="0.083" stop-color="#c6c129"/><stop offset="0.167" stop-color="#b9b427"/><stop offset="0.250" stop-color="#aaa523"/><stop offset="0.333" stop-color="#999520"/><stop offset="0.417" stop-color="#87841c"/><stop offset="0.500" stop-color="#757218"/><stop offset="0.583" stop-color="#615f14"/><stop offset="0.667" stop-color="#4d4b10"/><stop offset="0.750" stop-color="#42400e"/><stop offset="0.833" stop-color="#42400e"/><stop offset="0.917" stop-color="#42400e"/><stop offset="1.000" stop-color="#42400e"/></linearGradient><linearGradient id="g36" gradientUnits="userSpaceOnUse" x1="0" y1="100.82" x2="0" y2="176.19"><stop offset="0.000" stop-color="#c8cd30"/><stop offset="0.083" stop-color="#c6cc30"/><stop offset="0.167" stop-color="#babf2d"/><stop offset="0.250" stop-color="#acb12a"/><stop offset="0.333" stop-color="#9da126"/><stop offset="0.417" stop-color="#8c9022"/><stop offset="0.500" stop-color="#7b7f1e"/><stop offset="0.583" stop-color="#696c19"/><stop offset="0.667" stop-color="#575915"/><stop offset="0.750" stop-color="#434510"/><stop offset="0.833" stop-color="#3f400f"/><stop offset="0.917" stop-color="#3f400f"/><stop offset="1.000" stop-color="#3f400f"/></linearGradient><linearGradient id="g37" gradientUnits="userSpaceOnUse" x1="0" y1="101.25" x2="0" y2="175.82"><stop offset="0.000" stop-color="#c2d639"/><stop offset="0.083" stop-color="#c1d438"/><stop offset="0.167" stop-color="#b6c935"/><stop offset="0.250" stop-color="#a9bb31"/><stop offset="0.333" stop-color="#9cac2d"/><stop offset="0.417" stop-color="#8d9c29"/><stop offset="0.500" stop-color="#7e8b25"/><stop offset="0.583" stop-color="#6e7920"/><stop offset="0.667" stop-color="#5d661b"/><stop offset="0.750" stop-color="#4b5316"/><stop offset="0.833" stop-color="#3b4111"/><stop offset="0.917" stop-color="#3b4111"/><stop offset="1.000" stop-color="#3b4111"/></linearGradient><linearGradient id="g38" gradientUnits="userSpaceOnUse" x1="0" y1="101.82" x2="0" y2="175.30"><stop offset="0.000" stop-color="#b7dc43"/><stop offset="0.083" stop-color="#b6db43"/><stop offset="0.167" stop-color="#acd03f"/><stop offset="0.250" stop-color="#a2c33b"/><stop offset="0.333" stop-color="#96b437"/><stop offset="0.417" stop-color="#89a532"/><stop offset="0.500" stop-color="#7c952d"/><stop offset="0.583" stop-color="#6e8428"/><stop offset="0.667" stop-color="#5f7323"/><stop offset="0.750" stop-color="#50601d"/><stop offset="0.833" stop-color="#404d17"/><stop offset="0.917" stop-color="#374214"/><stop offset="1.000" stop-color="#374214"/></linearGradient><linearGradient id="g39" gradientUnits="userSpaceOnUse" x1="0" y1="102.55" x2="0" y2="174.63"><stop offset="0.000" stop-color="#a7e151"/><stop offset="0.083" stop-color="#a6df50"/><stop offset="0.167" stop-color="#9ed54d"/><stop offset="0.250" stop-color="#95c848"/><stop offset="0.333" stop-color="#8bbb43"/><stop offset="0.417" stop-color="#80ad3e"/><stop offset="0.500" stop-color="#759e39"/><stop offset="0.583" stop-color="#6a8e33"/><stop offset="0.667" stop-color="#5e7e2d"/><stop offset="0.750" stop-color="#516d27"/><stop offset="0.833" stop-color="#435b21"/><stop offset="0.917" stop-color="#344619"/><stop offset="1.000" stop-color="#314318"/></linearGradient><linearGradient id="g40" gradientUnits="userSpaceOnUse" x1="0" y1="103.45" x2="0" y2="173.78"><stop offset="0.000" stop-color="#92e361"/><stop offset="0.083" stop-color="#91e160"/><stop offset="0.167" stop-color="#8bd85c"/><stop offset="0.250" stop-color="#83cc57"/><stop offset="0.333" stop-color="#7bc052"/><stop offset="0.417" stop-color="#73b34d"/><stop offset="0.500" stop-color="#6aa547"/><stop offset="0.583" stop-color="#619741"/><stop offset="0.667" stop-color="#57883a"/><stop offset="0.750" stop-color="#4d7833"/><stop offset="0.833" stop-color="#42672c"/><stop offset="0.917" stop-color="#375524"/><stop offset="1.000" stop-color="#2b431d"/></linearGradient><linearGradient id="g41" gradientUnits="userSpaceOnUse" x1="0" y1="104.55" x2="0" y2="172.74"><stop offset="0.000" stop-color="#78e272"/><stop offset="0.083" stop-color="#78e172"/><stop offset="0.167" stop-color="#73d86d"/><stop offset="0.250" stop-color="#6ece68"/><stop offset="0.333" stop-color="#68c363"/><stop offset="0.417" stop-color="#61b75d"/><stop offset="0.500" stop-color="#5bab56"/><stop offset="0.583" stop-color="#549e50"/><stop offset="0.667" stop-color="#4d9049"/><stop offset="0.750" stop-color="#458242"/><stop offset="0.833" stop-color="#3d723a"/><stop offset="0.917" stop-color="#346231"/><stop offset="1.000" stop-color="#274925"/></linearGradient><linearGradient id="g42" gradientUnits="userSpaceOnUse" x1="0" y1="105.86" x2="0" y2="171.49"><stop offset="0.000" stop-color="#5edf86"/><stop offset="0.083" stop-color="#5ede85"/><stop offset="0.167" stop-color="#5ad681"/><stop offset="0.250" stop-color="#56cd7b"/><stop offset="0.333" stop-color="#52c375"/><stop offset="0.417" stop-color="#4eb96f"/><stop offset="0.500" stop-color="#49ad68"/><stop offset="0.583" stop-color="#44a261"/><stop offset="0.667" stop-color="#3f965a"/><stop offset="0.750" stop-color="#3a8952"/><stop offset="0.833" stop-color="#347b4a"/><stop offset="0.917" stop-color="#2e6c41"/><stop offset="1.000" stop-color="#255734"/></linearGradient><linearGradient id="g43" gradientUnits="userSpaceOnUse" x1="0" y1="107.40" x2="0" y2="170.01"><stop offset="0.000" stop-color="#44d999"/><stop offset="0.083" stop-color="#43d898"/><stop offset="0.167" stop-color="#41d193"/><stop offset="0.250" stop-color="#3fc98e"/><stop offset="0.333" stop-color="#3cc188"/><stop offset="0.417" stop-color="#39b881"/><stop offset="0.500" stop-color="#36ae7a"/><stop offset="0.583" stop-color="#33a473"/><stop offset="0.667" stop-color="#30996c"/><stop offset="0.750" stop-color="#2c8e64"/><stop offset="0.833" stop-color="#28825b"/><stop offset="0.917" stop-color="#247552"/><stop offset="1.000" stop-color="#1e6245"/></linearGradient><linearGradient id="g44" gradientUnits="userSpaceOnUse" x1="0" y1="109.22" x2="0" y2="168.24"><stop offset="0.000" stop-color="#33d1ab"/><stop offset="0.083" stop-color="#32d0aa"/><stop offset="0.167" stop-color="#31caa5"/><stop offset="0.250" stop-color="#2fc3a0"/><stop offset="0.333" stop-color="#2ebc9a"/><stop offset="0.417" stop-color="#2cb493"/><stop offset="0.500" stop-color="#2aab8c"/><stop offset="0.583" stop-color="#27a285"/><stop offset="0.667" stop-color="#25997d"/><stop offset="0.750" stop-color="#239076"/><stop offset="0.833" stop-color="#20856d"/><stop offset="0.917" stop-color="#1e7a64"/><stop offset="1.000" stop-color="#1a6a56"/></linearGradient><linearGradient id="g45" gradientUnits="userSpaceOnUse" x1="0" y1="111.34" x2="0" y2="166.18"><stop offset="0.000" stop-color="#1cc7bc"/><stop offset="0.083" stop-color="#1bc7bb"/><stop offset="0.167" stop-color="#1bc2b6"/><stop offset="0.250" stop-color="#1abcb1"/><stop offset="0.333" stop-color="#19b5ab"/><stop offset="0.417" stop-color="#18aea4"/><stop offset="0.500" stop-color="#17a79d"/><stop offset="0.583" stop-color="#16a096"/><stop offset="0.667" stop-color="#15988f"/><stop offset="0.750" stop-color="#148f87"/><stop offset="0.833" stop-color="#13867f"/><stop offset="0.917" stop-color="#117d75"/><stop offset="1.000" stop-color="#0f6f68"/></linearGradient><linearGradient id="g46" gradientUnits="userSpaceOnUse" x1="0" y1="113.76" x2="0" y2="163.81"><stop offset="0.000" stop-color="#01bdcd"/><stop offset="0.083" stop-color="#01bccc"/><stop offset="0.167" stop-color="#01b8c8"/><stop offset="0.250" stop-color="#01b3c2"/><stop offset="0.333" stop-color="#01adbc"/><stop offset="0.417" stop-color="#01a7b6"/><stop offset="0.500" stop-color="#01a1af"/><stop offset="0.583" stop-color="#019ba8"/><stop offset="0.667" stop-color="#0194a0"/><stop offset="0.750" stop-color="#018d99"/><stop offset="0.833" stop-color="#018590"/><stop offset="0.917" stop-color="#017d87"/><stop offset="1.000" stop-color="#01717a"/></linearGradient><linearGradient id="g47" gradientUnits="userSpaceOnUse" x1="0" y1="116.50" x2="0" y2="161.13"><stop offset="0.000" stop-color="#18afdd"/><stop offset="0.083" stop-color="#18afdd"/><stop offset="0.167" stop-color="#18abd8"/><stop offset="0.250" stop-color="#17a7d3"/><stop offset="0.333" stop-color="#16a2cd"/><stop offset="0.417" stop-color="#169dc6"/><stop offset="0.500" stop-color="#1598c0"/><stop offset="0.583" stop-color="#1492b9"/><stop offset="0.667" stop-color="#138db1"/><stop offset="0.750" stop-color="#1386aa"/><stop offset="0.833" stop-color="#1280a2"/><stop offset="0.917" stop-color="#117999"/><stop offset="1.000" stop-color="#0f6f8c"/></linearGradient><linearGradient id="g48" gradientUnits="userSpaceOnUse" x1="0" y1="101.02" x2="0" y2="176.66"><stop offset="0.000" stop-color="#2f431a"/><stop offset="0.083" stop-color="#2f431a"/><stop offset="0.167" stop-color="#2f431a"/><stop offset="0.250" stop-color="#2f431a"/><stop offset="0.333" stop-color="#2f431a"/><stop offset="0.417" stop-color="#2f431a"/><stop offset="0.500" stop-color="#2f431a"/><stop offset="0.583" stop-color="#2f431a"/><stop offset="0.667" stop-color="#2f431a"/><stop offset="0.750" stop-color="#2f431a"/><stop offset="0.833" stop-color="#2f431a"/><stop offset="0.917" stop-color="#2f431a"/><stop offset="1.000" stop-color="#2f431a"/></linearGradient><linearGradient id="g49" gradientUnits="userSpaceOnUse" x1="0" y1="98.91" x2="0" y2="178.84"><stop offset="0.000" stop-color="#3a4112"/><stop offset="0.083" stop-color="#3a4112"/><stop offset="0.167" stop-color="#3a4112"/><stop offset="0.250" stop-color="#3a4112"/><stop offset="0.333" stop-color="#3a4112"/><stop offset="0.417" stop-color="#3a4112"/><stop offset="0.500" stop-color="#3a4112"/><stop offset="0.583" stop-color="#3a4112"/><stop offset="0.667" stop-color="#3a4112"/><stop offset="0.750" stop-color="#3a4112"/><stop offset="0.833" stop-color="#3a4112"/><stop offset="0.917" stop-color="#3a4112"/><stop offset="1.000" stop-color="#3a4112"/></linearGradient><linearGradient id="g50" gradientUnits="userSpaceOnUse" x1="0" y1="97.60" x2="0" y2="180.20"><stop offset="0.000" stop-color="#40410f"/><stop offset="0.083" stop-color="#3f400f"/><stop offset="0.167" stop-color="#3f400f"/><stop offset="0.250" stop-color="#3f400f"/><stop offset="0.333" stop-color="#3f400f"/><stop offset="0.417" stop-color="#3f400f"/><stop offset="0.500" stop-color="#3f400f"/><stop offset="0.583" stop-color="#3f400f"/><stop offset="0.667" stop-color="#3f400f"/><stop offset="0.750" stop-color="#3f400f"/><stop offset="0.833" stop-color="#3f400f"/><stop offset="0.917" stop-color="#3f400f"/><stop offset="1.000" stop-color="#3f400f"/></linearGradient><linearGradient id="g51" gradientUnits="userSpaceOnUse" x1="0" y1="96.74" x2="0" y2="181.12"><stop offset="0.000" stop-color="#625c13"/><stop offset="0.083" stop-color="#605b13"/><stop offset="0.167" stop-color="#555111"/><stop offset="0.250" stop-color="#49450e"/><stop offset="0.333" stop-color="#433f0d"/><stop offset="0.417" stop-color="#433f0d"/><stop offset="0.500" stop-color="#433f0d"/><stop offset="0.583" stop-color="#433f0d"/><stop offset="0.667" stop-color="#433f0d"/><stop offset="0.750" stop-color="#433f0d"/><stop offset="0.833" stop-color="#433f0d"/><stop offset="0.917" stop-color="#433f0d"/><stop offset="1.000" stop-color="#433f0d"/></linearGradient><linearGradient id="g52" gradientUnits="userSpaceOnUse" x1="0" y1="96.16" x2="0" y2="181.75"><stop offset="0.000" stop-color="#847719"/><stop offset="0.083" stop-color="#827518"/><stop offset="0.167" stop-color="#756a16"/><stop offset="0.250" stop-color="#675d13"/><stop offset="0.333" stop-color="#564e10"/><stop offset="0.417" stop-color="#463f0d"/><stop offset="0.500" stop-color="#463f0d"/><stop offset="0.583" stop-color="#463f0d"/><stop offset="0.667" stop-color="#463f0d"/><stop offset="0.750" stop-color="#463f0d"/><stop offset="0.833" stop-color="#463f0d"/><stop offset="0.917" stop-color="#463f0d"/><stop offset="1.000" stop-color="#463f0d"/></linearGradient><linearGradient id="g53" gradientUnits="userSpaceOnUse" x1="0" y1="95.82" x2="0" y2="182.15"><stop offset="0.000" stop-color="#a4901e"/><stop offset="0.083" stop-color="#a28f1e"/><stop offset="0.167" stop-color="#94821b"/><stop offset="0.250" stop-color="#847418"/><stop offset="0.333" stop-color="#726415"/><stop offset="0.417" stop-color="#5f5412"/><stop offset="0.500" stop-color="#4b420e"/><stop offset="0.583" stop-color="#473f0d"/><stop offset="0.667" stop-color="#473f0d"/><stop offset="0.750" stop-color="#473f0d"/><stop offset="0.833" stop-color="#473f0d"/><stop offset="0.917" stop-color="#473f0d"/><stop offset="1.000" stop-color="#473f0d"/></linearGradient><linearGradient id="g54" gradientUnits="userSpaceOnUse" x1="0" y1="95.68" x2="0" y2="182.32"><stop offset="0.000" stop-color="#c0a724"/><stop offset="0.083" stop-color="#bea523"/><stop offset="0.167" stop-color="#af9921"/><stop offset="0.250" stop-color="#9e8a1d"/><stop offset="0.333" stop-color="#8c7a1a"/><stop offset="0.417" stop-color="#786916"/><stop offset="0.500" stop-color="#645712"/><stop offset="0.583" stop-color="#4e440e"/><stop offset="0.667" stop-color="#483f0d"/><stop offset="0.750" stop-color="#483f0d"/><stop offset="0.833" stop-color="#483f0d"/><stop offset="0.917" stop-color="#483f0d"/><stop offset="1.000" stop-color="#483f0d"/></linearGradient><linearGradient id="g55" gradientUnits="userSpaceOnUse" x1="0" y1="95.72" x2="0" y2="182.28"><stop offset="0.000" stop-color="#d6bb28"/><stop offset="0.083" stop-color="#d4b927"/><stop offset="0.167" stop-color="#c6ad25"/><stop offset="0.250" stop-color="#b59e22"/><stop offset="0.333" stop-color="#a38e1e"/><stop offset="0.417" stop-color="#8f7d1b"/><stop offset="0.500" stop-color="#7b6b17"/><stop offset="0.583" stop-color="#655813"/><stop offset="0.667" stop-color="#4f450f"/><stop offset="0.750" stop-color="#483f0d"/><stop offset="0.833" stop-color="#483f0d"/><stop offset="0.917" stop-color="#483f0d"/><stop offset="1.000" stop-color="#483f0d"/></linearGradient><linearGradient id="g56" gradientUnits="userSpaceOnUse" x1="0" y1="95.97" x2="0" y2="182.03"><stop offset="0.000" stop-color="#e4ca2a"/><stop offset="0.083" stop-color="#e2c82a"/><stop offset="0.167" stop-color="#d5bc28"/><stop offset="0.250" stop-color="#c5ae25"/><stop offset="0.333" stop-color="#b49f21"/><stop offset="0.417" stop-color="#a28f1e"/><stop offset="0.500" stop-color="#8e7e1a"/><stop offset="0.583" stop-color="#7a6c17"/><stop offset="0.667" stop-color="#655a13"/><stop offset="0.750" stop-color="#4f460f"/><stop offset="0.833" stop-color="#473f0d"/><stop offset="0.917" stop-color="#473f0d"/><stop offset="1.000" stop-color="#473f0d"/></linearGradient><linearGradient id="g57" gradientUnits="userSpaceOnUse" x1="0" y1="96.46" x2="0" y2="181.54"><stop offset="0.000" stop-color="#e7d32b"/><stop offset="0.083" stop-color="#e6d22b"/><stop offset="0.167" stop-color="#dac729"/><stop offset="0.250" stop-color="#ccbb26"/><stop offset="0.333" stop-color="#bead23"/><stop offset="0.417" stop-color="#ae9f20"/><stop offset="0.500" stop-color="#9d8f1d"/><stop offset="0.583" stop-color="#8c7f1a"/><stop offset="0.667" stop-color="#796f17"/><stop offset="0.750" stop-color="#665d13"/><stop offset="0.833" stop-color="#524a0f"/><stop offset="0.917" stop-color="#453f0d"/><stop offset="1.000" stop-color="#453f0d"/></linearGradient><linearGradient id="g58" gradientUnits="userSpaceOnUse" x1="0" y1="97.27" x2="0" y2="180.73"><stop offset="0.000" stop-color="#ded72e"/><stop offset="0.083" stop-color="#ddd62e"/><stop offset="0.167" stop-color="#d4cd2c"/><stop offset="0.250" stop-color="#c9c22a"/><stop offset="0.333" stop-color="#bdb727"/><stop offset="0.417" stop-color="#b1ab25"/><stop offset="0.500" stop-color="#a39e22"/><stop offset="0.583" stop-color="#96911f"/><stop offset="0.667" stop-color="#87831c"/><stop offset="0.750" stop-color="#787419"/><stop offset="0.833" stop-color="#686415"/><stop offset="0.917" stop-color="#565312"/><stop offset="1.000" stop-color="#42400e"/></linearGradient><linearGradient id="g59" gradientUnits="userSpaceOnUse" x1="0" y1="98.57" x2="0" y2="179.43"><stop offset="0.000" stop-color="#c5d335"/><stop offset="0.083" stop-color="#c4d235"/><stop offset="0.167" stop-color="#becc33"/><stop offset="0.250" stop-color="#b7c431"/><stop offset="0.333" stop-color="#afbc2f"/><stop offset="0.417" stop-color="#a7b32d"/><stop offset="0.500" stop-color="#9ea92b"/><stop offset="0.583" stop-color="#959f28"/><stop offset="0.667" stop-color="#8b9526"/><stop offset="0.750" stop-color="#818a23"/><stop offset="0.833" stop-color="#767f20"/><stop offset="0.917" stop-color="#6a721d"/><stop offset="1.000" stop-color="#596018"/></linearGradient><linearGradient id="g60" gradientUnits="userSpaceOnUse" x1="0" y1="100.95" x2="0" y2="177.05"><stop offset="0.000" stop-color="#93c748"/><stop offset="0.083" stop-color="#92c648"/><stop offset="0.167" stop-color="#90c347"/><stop offset="0.250" stop-color="#8dbf45"/><stop offset="0.333" stop-color="#8aba44"/><stop offset="0.417" stop-color="#86b642"/><stop offset="0.500" stop-color="#82b140"/><stop offset="0.583" stop-color="#7eab3e"/><stop offset="0.667" stop-color="#7aa63c"/><stop offset="0.750" stop-color="#76a03a"/><stop offset="0.833" stop-color="#729a38"/><stop offset="0.917" stop-color="#6d9335"/><stop offset="1.000" stop-color="#658932"/></linearGradient><linearGradient id="g61" gradientUnits="userSpaceOnUse" x1="0" y1="113.46" x2="0" y2="164.54"><stop offset="0.000" stop-color="#013d41"/><stop offset="0.083" stop-color="#013d41"/><stop offset="0.167" stop-color="#013d41"/><stop offset="0.250" stop-color="#013d41"/><stop offset="0.333" stop-color="#013d41"/><stop offset="0.417" stop-color="#013d41"/><stop offset="0.500" stop-color="#013d41"/><stop offset="0.583" stop-color="#013d41"/><stop offset="0.667" stop-color="#013d41"/><stop offset="0.750" stop-color="#013d41"/><stop offset="0.833" stop-color="#013d41"/><stop offset="0.917" stop-color="#013d41"/><stop offset="1.000" stop-color="#013d41"/></linearGradient><linearGradient id="g62" gradientUnits="userSpaceOnUse" x1="0" y1="110.84" x2="0" y2="167.16"><stop offset="0.000" stop-color="#0c403a"/><stop offset="0.083" stop-color="#0c403a"/><stop offset="0.167" stop-color="#0c403a"/><stop offset="0.250" stop-color="#0c403a"/><stop offset="0.333" stop-color="#0c403a"/><stop offset="0.417" stop-color="#0c403a"/><stop offset="0.500" stop-color="#0c403a"/><stop offset="0.583" stop-color="#0c403a"/><stop offset="0.667" stop-color="#0c403a"/><stop offset="0.750" stop-color="#0c403a"/><stop offset="0.833" stop-color="#0c403a"/><stop offset="0.917" stop-color="#0c403a"/><stop offset="1.000" stop-color="#0c403a"/></linearGradient><linearGradient id="g63" gradientUnits="userSpaceOnUse" x1="0" y1="108.48" x2="0" y2="169.52"><stop offset="0.000" stop-color="#124232"/><stop offset="0.083" stop-color="#124232"/><stop offset="0.167" stop-color="#124232"/><stop offset="0.250" stop-color="#124232"/><stop offset="0.333" stop-color="#124232"/><stop offset="0.417" stop-color="#124232"/><stop offset="0.500" stop-color="#124232"/><stop offset="0.583" stop-color="#124232"/><stop offset="0.667" stop-color="#124232"/><stop offset="0.750" stop-color="#124232"/><stop offset="0.833" stop-color="#124232"/><stop offset="0.917" stop-color="#124232"/><stop offset="1.000" stop-color="#124232"/></linearGradient><linearGradient id="g64" gradientUnits="userSpaceOnUse" x1="0" y1="106.41" x2="0" y2="171.59"><stop offset="0.000" stop-color="#1a432a"/><stop offset="0.083" stop-color="#1a432a"/><stop offset="0.167" stop-color="#1a432a"/><stop offset="0.250" stop-color="#1a432a"/><stop offset="0.333" stop-color="#1a432a"/><stop offset="0.417" stop-color="#1a432a"/><stop offset="0.500" stop-color="#1a432a"/><stop offset="0.583" stop-color="#1a432a"/><stop offset="0.667" stop-color="#1a432a"/><stop offset="0.750" stop-color="#1a432a"/><stop offset="0.833" stop-color="#1a432a"/><stop offset="0.917" stop-color="#1a432a"/><stop offset="1.000" stop-color="#1a432a"/></linearGradient><linearGradient id="g65" gradientUnits="userSpaceOnUse" x1="0" y1="104.57" x2="0" y2="173.43"><stop offset="0.000" stop-color="#244422"/><stop offset="0.083" stop-color="#244422"/><stop offset="0.167" stop-color="#244422"/><stop offset="0.250" stop-color="#244422"/><stop offset="0.333" stop-color="#244422"/><stop offset="0.417" stop-color="#244422"/><stop offset="0.500" stop-color="#244422"/><stop offset="0.583" stop-color="#244422"/><stop offset="0.667" stop-color="#244422"/><stop offset="0.750" stop-color="#244422"/><stop offset="0.833" stop-color="#244422"/><stop offset="0.917" stop-color="#244422"/><stop offset="1.000" stop-color="#244422"/></linearGradient><linearGradient id="g66" gradientUnits="userSpaceOnUse" x1="0" y1="102.97" x2="0" y2="175.03"><stop offset="0.000" stop-color="#2e431a"/><stop offset="0.083" stop-color="#2e431a"/><stop offset="0.167" stop-color="#2e431a"/><stop offset="0.250" stop-color="#2e431a"/><stop offset="0.333" stop-color="#2e431a"/><stop offset="0.417" stop-color="#2e431a"/><stop offset="0.500" stop-color="#2e431a"/><stop offset="0.583" stop-color="#2e431a"/><stop offset="0.667" stop-color="#2e431a"/><stop offset="0.750" stop-color="#2e431a"/><stop offset="0.833" stop-color="#2e431a"/><stop offset="0.917" stop-color="#2e431a"/><stop offset="1.000" stop-color="#2e431a"/></linearGradient><linearGradient id="g67" gradientUnits="userSpaceOnUse" x1="0" y1="101.57" x2="0" y2="176.43"><stop offset="0.000" stop-color="#374214"/><stop offset="0.083" stop-color="#374214"/><stop offset="0.167" stop-color="#374214"/><stop offset="0.250" stop-color="#374214"/><stop offset="0.333" stop-color="#374214"/><stop offset="0.417" stop-color="#374214"/><stop offset="0.500" stop-color="#374214"/><stop offset="0.583" stop-color="#374214"/><stop offset="0.667" stop-color="#374214"/><stop offset="0.750" stop-color="#374214"/><stop offset="0.833" stop-color="#374214"/><stop offset="0.917" stop-color="#374214"/><stop offset="1.000" stop-color="#374214"/></linearGradient><linearGradient id="g68" gradientUnits="userSpaceOnUse" x1="0" y1="100.34" x2="0" y2="177.66"><stop offset="0.000" stop-color="#3e410f"/><stop offset="0.083" stop-color="#3e410f"/><stop offset="0.167" stop-color="#3e410f"/><stop offset="0.250" stop-color="#3e410f"/><stop offset="0.333" stop-color="#3e410f"/><stop offset="0.417" stop-color="#3e410f"/><stop offset="0.500" stop-color="#3e410f"/><stop offset="0.583" stop-color="#3e410f"/><stop offset="0.667" stop-color="#3e410f"/><stop offset="0.750" stop-color="#3e410f"/><stop offset="0.833" stop-color="#3e410f"/><stop offset="0.917" stop-color="#3e410f"/><stop offset="1.000" stop-color="#3e410f"/></linearGradient><linearGradient id="g69" gradientUnits="userSpaceOnUse" x1="0" y1="99.27" x2="0" y2="178.73"><stop offset="0.000" stop-color="#4b460e"/><stop offset="0.083" stop-color="#4a440e"/><stop offset="0.167" stop-color="#443f0d"/><stop offset="0.250" stop-color="#443f0d"/><stop offset="0.333" stop-color="#443f0d"/><stop offset="0.417" stop-color="#443f0d"/><stop offset="0.500" stop-color="#443f0d"/><stop offset="0.583" stop-color="#443f0d"/><stop offset="0.667" stop-color="#443f0d"/><stop offset="0.750" stop-color="#443f0d"/><stop offset="0.833" stop-color="#443f0d"/><stop offset="0.917" stop-color="#443f0d"/><stop offset="1.000" stop-color="#443f0d"/></linearGradient><linearGradient id="g70" gradientUnits="userSpaceOnUse" x1="0" y1="98.34" x2="0" y2="179.66"><stop offset="0.000" stop-color="#5d4f11"/><stop offset="0.083" stop-color="#5b4d11"/><stop offset="0.167" stop-color="#50440f"/><stop offset="0.250" stop-color="#493e0e"/><stop offset="0.333" stop-color="#493e0e"/><stop offset="0.417" stop-color="#493e0e"/><stop offset="0.500" stop-color="#493e0e"/><stop offset="0.583" stop-color="#493e0e"/><stop offset="0.667" stop-color="#493e0e"/><stop offset="0.750" stop-color="#493e0e"/><stop offset="0.833" stop-color="#493e0e"/><stop offset="0.917" stop-color="#493e0e"/><stop offset="1.000" stop-color="#493e0e"/></linearGradient><linearGradient id="g71" gradientUnits="userSpaceOnUse" x1="0" y1="97.53" x2="0" y2="180.47"><stop offset="0.000" stop-color="#6f5817"/><stop offset="0.083" stop-color="#6d5717"/><stop offset="0.167" stop-color="#614d14"/><stop offset="0.250" stop-color="#524111"/><stop offset="0.333" stop-color="#4d3e10"/><stop offset="0.417" stop-color="#4d3e10"/><stop offset="0.500" stop-color="#4d3e10"/><stop offset="0.583" stop-color="#4d3e10"/><stop offset="0.667" stop-color="#4d3e10"/><stop offset="0.750" stop-color="#4d3e10"/><stop offset="0.833" stop-color="#4d3e10"/><stop offset="0.917" stop-color="#4d3e10"/><stop offset="1.000" stop-color="#4d3e10"/></linearGradient><linearGradient id="g72" gradientUnits="userSpaceOnUse" x1="0" y1="96.84" x2="0" y2="181.16"><stop offset="0.000" stop-color="#81621e"/><stop offset="0.083" stop-color="#7f611e"/><stop offset="0.167" stop-color="#71561b"/><stop offset="0.250" stop-color="#614a17"/><stop offset="0.333" stop-color="#513d13"/><stop offset="0.417" stop-color="#513d13"/><stop offset="0.500" stop-color="#513d13"/><stop offset="0.583" stop-color="#513d13"/><stop offset="0.667" stop-color="#513d13"/><stop offset="0.750" stop-color="#513d13"/><stop offset="0.833" stop-color="#513d13"/><stop offset="0.917" stop-color="#513d13"/><stop offset="1.000" stop-color="#513d13"/></linearGradient><linearGradient id="g73" gradientUnits="userSpaceOnUse" x1="0" y1="96.24" x2="0" y2="181.76"><stop offset="0.000" stop-color="#926d23"/><stop offset="0.083" stop-color="#906c23"/><stop offset="0.167" stop-color="#81611f"/><stop offset="0.250" stop-color="#70541b"/><stop offset="0.333" stop-color="#5e4617"/><stop offset="0.417" stop-color="#533e14"/><stop offset="0.500" stop-color="#533e14"/><stop offset="0.583" stop-color="#533e14"/><stop offset="0.667" stop-color="#533e14"/><stop offset="0.750" stop-color="#533e14"/><stop offset="0.833" stop-color="#533e14"/><stop offset="0.917" stop-color="#533e14"/><stop offset="1.000" stop-color="#533e14"/></linearGradient><linearGradient id="g74" gradientUnits="userSpaceOnUse" x1="0" y1="95.73" x2="0" y2="182.27"><stop offset="0.000" stop-color="#a07a25"/><stop offset="0.083" stop-color="#9e7824"/><stop offset="0.167" stop-color="#8f6d21"/><stop offset="0.250" stop-color="#7d5f1d"/><stop offset="0.333" stop-color="#6a5018"/><stop offset="0.417" stop-color="#554013"/><stop offset="0.500" stop-color="#544013"/><stop offset="0.583" stop-color="#544013"/><stop offset="0.667" stop-color="#544013"/><stop offset="0.750" stop-color="#544013"/><stop offset="0.833" stop-color="#544013"/><stop offset="0.917" stop-color="#544013"/><stop offset="1.000" stop-color="#544013"/></linearGradient><linearGradient id="g75" gradientUnits="userSpaceOnUse" x1="0" y1="95.30" x2="0" y2="182.70"><stop offset="0.000" stop-color="#ad8725"/><stop offset="0.083" stop-color="#ab8524"/><stop offset="0.167" stop-color="#9b7921"/><stop offset="0.250" stop-color="#896b1d"/><stop offset="0.333" stop-color="#745b19"/><stop offset="0.417" stop-color="#5f4a14"/><stop offset="0.500" stop-color="#544112"/><stop offset="0.583" stop-color="#544112"/><stop offset="0.667" stop-color="#544112"/><stop offset="0.750" stop-color="#544112"/><stop offset="0.833" stop-color="#544112"/><stop offset="0.917" stop-color="#544112"/><stop offset="1.000" stop-color="#544112"/></linearGradient><linearGradient id="g76" gradientUnits="userSpaceOnUse" x1="0" y1="94.96" x2="0" y2="183.04"><stop offset="0.000" stop-color="#b89425"/><stop offset="0.083" stop-color="#b69224"/><stop offset="0.167" stop-color="#a68521"/><stop offset="0.250" stop-color="#93761d"/><stop offset="0.333" stop-color="#7f6619"/><stop offset="0.417" stop-color="#695415"/><stop offset="0.500" stop-color="#544311"/><stop offset="0.583" stop-color="#544311"/><stop offset="0.667" stop-color="#544311"/><stop offset="0.750" stop-color="#544311"/><stop offset="0.833" stop-color="#544311"/><stop offset="0.917" stop-color="#544311"/><stop offset="1.000" stop-color="#544311"/></linearGradient><linearGradient id="g77" gradientUnits="userSpaceOnUse" x1="0" y1="94.68" x2="0" y2="183.32"><stop offset="0.000" stop-color="#c3a025"/><stop offset="0.083" stop-color="#c09f25"/><stop offset="0.167" stop-color="#b09121"/><stop offset="0.250" stop-color="#9d811e"/><stop offset="0.333" stop-color="#88701a"/><stop offset="0.417" stop-color="#725e16"/><stop offset="0.500" stop-color="#5b4b11"/><stop offset="0.583" stop-color="#534510"/><stop offset="0.667" stop-color="#534510"/><stop offset="0.750" stop-color="#534510"/><stop offset="0.833" stop-color="#534510"/><stop offset="0.917" stop-color="#534510"/><stop offset="1.000" stop-color="#534510"/></linearGradient><linearGradient id="g78" gradientUnits="userSpaceOnUse" x1="0" y1="94.47" x2="0" y2="183.53"><stop offset="0.000" stop-color="#cbad25"/><stop offset="0.083" stop-color="#c9ab25"/><stop offset="0.167" stop-color="#b99d22"/><stop offset="0.250" stop-color="#a68d1e"/><stop offset="0.333" stop-color="#917b1a"/><stop offset="0.417" stop-color="#7a6816"/><stop offset="0.500" stop-color="#635412"/><stop offset="0.583" stop-color="#53460f"/><stop offset="0.667" stop-color="#53460f"/><stop offset="0.750" stop-color="#53460f"/><stop offset="0.833" stop-color="#53460f"/><stop offset="0.917" stop-color="#53460f"/><stop offset="1.000" stop-color="#53460f"/></linearGradient><linearGradient id="g79" gradientUnits="userSpaceOnUse" x1="0" y1="94.33" x2="0" y2="183.67"><stop offset="0.000" stop-color="#d3b825"/><stop offset="0.083" stop-color="#d1b725"/><stop offset="0.167" stop-color="#c1a822"/><stop offset="0.250" stop-color="#ae971f"/><stop offset="0.333" stop-color="#99851b"/><stop offset="0.417" stop-color="#827217"/><stop offset="0.500" stop-color="#6b5d13"/><stop offset="0.583" stop-color="#52480e"/><stop offset="0.667" stop-color="#52470e"/><stop offset="0.750" stop-color="#52470e"/><stop offset="0.833" stop-color="#52470e"/><stop offset="0.917" stop-color="#52470e"/><stop offset="1.000" stop-color="#52470e"/></linearGradient><linearGradient id="g80" gradientUnits="userSpaceOnUse" x1="0" y1="94.25" x2="0" y2="183.75"><stop offset="0.000" stop-color="#dbc425"/><stop offset="0.083" stop-color="#d9c225"/><stop offset="0.167" stop-color="#c8b322"/><stop offset="0.250" stop-color="#b5a21f"/><stop offset="0.333" stop-color="#a08f1b"/><stop offset="0.417" stop-color="#8a7b17"/><stop offset="0.500" stop-color="#726613"/><stop offset="0.583" stop-color="#5a500f"/><stop offset="0.667" stop-color="#51490e"/><stop offset="0.750" stop-color="#51490e"/><stop offset="0.833" stop-color="#51490e"/><stop offset="0.917" stop-color="#51490e"/><stop offset="1.000" stop-color="#51490e"/></linearGradient><linearGradient id="g81" gradientUnits="userSpaceOnUse" x1="0" y1="94.23" x2="0" y2="183.77"><stop offset="0.000" stop-color="#e2ce25"/><stop offset="0.083" stop-color="#e0cc25"/><stop offset="0.167" stop-color="#cfbd22"/><stop offset="0.250" stop-color="#bcac1f"/><stop offset="0.333" stop-color="#a7991b"/><stop offset="0.417" stop-color="#918418"/><stop offset="0.500" stop-color="#7a6f14"/><stop offset="0.583" stop-color="#615910"/><stop offset="0.667" stop-color="#514a0d"/><stop offset="0.750" stop-color="#514a0d"/><stop offset="0.833" stop-color="#514a0d"/><stop offset="0.917" stop-color="#514a0d"/><stop offset="1.000" stop-color="#514a0d"/></linearGradient><linearGradient id="g82" gradientUnits="userSpaceOnUse" x1="0" y1="94.26" x2="0" y2="183.74"><stop offset="0.000" stop-color="#e9d825"/><stop offset="0.083" stop-color="#e6d624"/><stop offset="0.167" stop-color="#d6c722"/><stop offset="0.250" stop-color="#c3b51f"/><stop offset="0.333" stop-color="#aea21c"/><stop offset="0.417" stop-color="#988d18"/><stop offset="0.500" stop-color="#817714"/><stop offset="0.583" stop-color="#686110"/><stop offset="0.667" stop-color="#514b0d"/><stop offset="0.750" stop-color="#514b0d"/><stop offset="0.833" stop-color="#514b0d"/><stop offset="0.917" stop-color="#514b0d"/><stop offset="1.000" stop-color="#514b0d"/></linearGradient><linearGradient id="g83" gradientUnits="userSpaceOnUse" x1="0" y1="94.36" x2="0" y2="183.64"><stop offset="0.000" stop-color="#efe124"/><stop offset="0.083" stop-color="#eddf24"/><stop offset="0.167" stop-color="#ddd022"/><stop offset="0.250" stop-color="#cabe1f"/><stop offset="0.333" stop-color="#b5aa1c"/><stop offset="0.417" stop-color="#9f9618"/><stop offset="0.500" stop-color="#888015"/><stop offset="0.583" stop-color="#6f6911"/><stop offset="0.667" stop-color="#56510d"/><stop offset="0.750" stop-color="#514c0c"/><stop offset="0.833" stop-color="#514c0c"/><stop offset="0.917" stop-color="#514c0c"/><stop offset="1.000" stop-color="#514c0c"/></linearGradient><linearGradient id="g84" gradientUnits="userSpaceOnUse" x1="0" y1="94.51" x2="0" y2="183.49"><stop offset="0.000" stop-color="#f5e924"/><stop offset="0.083" stop-color="#f3e724"/><stop offset="0.167" stop-color="#e3d821"/><stop offset="0.250" stop-color="#d0c61f"/><stop offset="0.333" stop-color="#bbb31b"/><stop offset="0.417" stop-color="#a59e18"/><stop offset="0.500" stop-color="#8e8815"/><stop offset="0.583" stop-color="#767111"/><stop offset="0.667" stop-color="#5d590e"/><stop offset="0.750" stop-color="#514d0c"/><stop offset="0.833" stop-color="#514d0c"/><stop offset="0.917" stop-color="#514d0c"/><stop offset="1.000" stop-color="#514d0c"/></linearGradient><linearGradient id="g85" gradientUnits="userSpaceOnUse" x1="0" y1="94.71" x2="0" y2="183.29"><stop offset="0.000" stop-color="#faf123"/><stop offset="0.083" stop-color="#f8ef23"/><stop offset="0.167" stop-color="#e8e020"/><stop offset="0.250" stop-color="#d6ce1e"/><stop offset="0.333" stop-color="#c1ba1b"/><stop offset="0.417" stop-color="#aca518"/><stop offset="0.500" stop-color="#959015"/><stop offset="0.583" stop-color="#7d7912"/><stop offset="0.667" stop-color="#64610e"/><stop offset="0.750" stop-color="#514e0b"/><stop offset="0.833" stop-color="#514e0b"/><stop offset="0.917" stop-color="#514e0b"/><stop offset="1.000" stop-color="#514e0b"/></linearGradient><linearGradient id="g86" gradientUnits="userSpaceOnUse" x1="0" y1="94.97" x2="0" y2="183.03"><stop offset="0.000" stop-color="#fff822"/><stop offset="0.083" stop-color="#fdf622"/><stop offset="0.167" stop-color="#eee720"/><stop offset="0.250" stop-color="#dbd51d"/><stop offset="0.333" stop-color="#c7c11b"/><stop offset="0.417" stop-color="#b2ad18"/><stop offset="0.500" stop-color="#9b9715"/><stop offset="0.583" stop-color="#848012"/><stop offset="0.667" stop-color="#6b680e"/><stop offset="0.750" stop-color="#524f0b"/><stop offset="0.833" stop-color="#514f0b"/><stop offset="0.917" stop-color="#514f0b"/><stop offset="1.000" stop-color="#514f0b"/></linearGradient><linearGradient id="g87" gradientUnits="userSpaceOnUse" x1="0" y1="95.29" x2="0" y2="182.71"><stop offset="0.000" stop-color="#fffe21"/><stop offset="0.083" stop-color="#fffc21"/><stop offset="0.167" stop-color="#f2ed1f"/><stop offset="0.250" stop-color="#e0db1c"/><stop offset="0.333" stop-color="#cdc81a"/><stop offset="0.417" stop-color="#b8b417"/><stop offset="0.500" stop-color="#a29e14"/><stop offset="0.583" stop-color="#8a8711"/><stop offset="0.667" stop-color="#72700e"/><stop offset="0.750" stop-color="#59570b"/><stop offset="0.833" stop-color="#514f0a"/><stop offset="0.917" stop-color="#514f0a"/><stop offset="1.000" stop-color="#514f0a"/></linearGradient><linearGradient id="g88" gradientUnits="userSpaceOnUse" x1="0" y1="95.67" x2="0" y2="182.33"><stop offset="0.000" stop-color="#ffff20"/><stop offset="0.083" stop-color="#ffff1f"/><stop offset="0.167" stop-color="#f7f31d"/><stop offset="0.250" stop-color="#e5e11b"/><stop offset="0.333" stop-color="#d2ce19"/><stop offset="0.417" stop-color="#bdba17"/><stop offset="0.500" stop-color="#a7a514"/><stop offset="0.583" stop-color="#918e11"/><stop offset="0.667" stop-color="#79770e"/><stop offset="0.750" stop-color="#605e0b"/><stop offset="0.833" stop-color="#51500a"/><stop offset="0.917" stop-color="#51500a"/><stop offset="1.000" stop-color="#51500a"/></linearGradient><linearGradient id="g89" gradientUnits="userSpaceOnUse" x1="0" y1="96.10" x2="0" y2="181.90"><stop offset="0.000" stop-color="#ffff1e"/><stop offset="0.083" stop-color="#ffff1e"/><stop offset="0.167" stop-color="#fbf81c"/><stop offset="0.250" stop-color="#e9e71a"/><stop offset="0.333" stop-color="#d6d418"/><stop offset="0.417" stop-color="#c2c016"/><stop offset="0.500" stop-color="#adab14"/><stop offset="0.583" stop-color="#979511"/><stop offset="0.667" stop-color="#7f7e0e"/><stop offset="0.750" stop-color="#67660c"/><stop offset="0.833" stop-color="#515109"/><stop offset="0.917" stop-color="#515109"/><stop offset="1.000" stop-color="#515109"/></linearGradient><linearGradient id="g90" gradientUnits="userSpaceOnUse" x1="0" y1="96.60" x2="0" y2="181.40"><stop offset="0.000" stop-color="#ffff1d"/><stop offset="0.083" stop-color="#ffff1d"/><stop offset="0.167" stop-color="#fefc1b"/><stop offset="0.250" stop-color="#edeb19"/><stop offset="0.333" stop-color="#dad917"/><stop offset="0.417" stop-color="#c7c515"/><stop offset="0.500" stop-color="#b2b113"/><stop offset="0.583" stop-color="#9c9b11"/><stop offset="0.667" stop-color="#86850e"/><stop offset="0.750" stop-color="#6e6d0c"/><stop offset="0.833" stop-color="#545409"/><stop offset="0.917" stop-color="#525109"/><stop offset="1.000" stop-color="#525109"/></linearGradient><linearGradient id="g91" gradientUnits="userSpaceOnUse" x1="0" y1="97.15" x2="0" y2="180.85"><stop offset="0.000" stop-color="#ffff1c"/><stop offset="0.083" stop-color="#ffff1b"/><stop offset="0.167" stop-color="#ffff1a"/><stop offset="0.250" stop-color="#f0ef18"/><stop offset="0.333" stop-color="#dede16"/><stop offset="0.417" stop-color="#cbca14"/><stop offset="0.500" stop-color="#b7b612"/><stop offset="0.583" stop-color="#a2a110"/><stop offset="0.667" stop-color="#8c8b0e"/><stop offset="0.750" stop-color="#75740c"/><stop offset="0.833" stop-color="#5c5c09"/><stop offset="0.917" stop-color="#525108"/><stop offset="1.000" stop-color="#525108"/></linearGradient><linearGradient id="g92" gradientUnits="userSpaceOnUse" x1="0" y1="97.78" x2="0" y2="180.22"><stop offset="0.000" stop-color="#ffff1a"/><stop offset="0.083" stop-color="#ffff1a"/><stop offset="0.167" stop-color="#ffff19"/><stop offset="0.250" stop-color="#f3f317"/><stop offset="0.333" stop-color="#e2e216"/><stop offset="0.417" stop-color="#cfcf14"/><stop offset="0.500" stop-color="#bcbc12"/><stop offset="0.583" stop-color="#a7a710"/><stop offset="0.667" stop-color="#92920e"/><stop offset="0.750" stop-color="#7b7b0c"/><stop offset="0.833" stop-color="#636309"/><stop offset="0.917" stop-color="#525208"/><stop offset="1.000" stop-color="#525208"/></linearGradient><linearGradient id="g93" gradientUnits="userSpaceOnUse" x1="0" y1="98.47" x2="0" y2="179.53"><stop offset="0.000" stop-color="#ffff19"/><stop offset="0.083" stop-color="#ffff19"/><stop offset="0.167" stop-color="#ffff18"/><stop offset="0.250" stop-color="#f6f616"/><stop offset="0.333" stop-color="#e5e515"/><stop offset="0.417" stop-color="#d3d313"/><stop offset="0.500" stop-color="#c0c011"/><stop offset="0.583" stop-color="#acad10"/><stop offset="0.667" stop-color="#97980e"/><stop offset="0.750" stop-color="#82820c"/><stop offset="0.833" stop-color="#6b6b0a"/><stop offset="0.917" stop-color="#525207"/><stop offset="1.000" stop-color="#525207"/></linearGradient><linearGradient id="g94" gradientUnits="userSpaceOnUse" x1="0" y1="99.24" x2="0" y2="178.76"><stop offset="0.000" stop-color="#ffff18"/><stop offset="0.083" stop-color="#ffff18"/><stop offset="0.167" stop-color="#ffff17"/><stop offset="0.250" stop-color="#f8f916"/><stop offset="0.333" stop-color="#e7e814"/><stop offset="0.417" stop-color="#d6d713"/><stop offset="0.500" stop-color="#c4c511"/><stop offset="0.583" stop-color="#b1b20f"/><stop offset="0.667" stop-color="#9d9e0e"/><stop offset="0.750" stop-color="#88890c"/><stop offset="0.833" stop-color="#72720a"/><stop offset="0.917" stop-color="#595a08"/><stop offset="1.000" stop-color="#525207"/></linearGradient><linearGradient id="g95" gradientUnits="userSpaceOnUse" x1="0" y1="100.09" x2="0" y2="177.91"><stop offset="0.000" stop-color="#ffff18"/><stop offset="0.083" stop-color="#ffff17"/><stop offset="0.167" stop-color="#ffff16"/><stop offset="0.250" stop-color="#f9fb15"/><stop offset="0.333" stop-color="#eaeb14"/><stop offset="0.417" stop-color="#d9da12"/><stop offset="0.500" stop-color="#c8c911"/><stop offset="0.583" stop-color="#b5b60f"/><stop offset="0.667" stop-color="#a2a30e"/><stop offset="0.750" stop-color="#8e8f0c"/><stop offset="0.833" stop-color="#797a0a"/><stop offset="0.917" stop-color="#616208"/><stop offset="1.000" stop-color="#525307"/></linearGradient><linearGradient id="g96" gradientUnits="userSpaceOnUse" x1="0" y1="101.03" x2="0" y2="176.97"><stop offset="0.000" stop-color="#ffff17"/><stop offset="0.083" stop-color="#ffff17"/><stop offset="0.167" stop-color="#ffff16"/><stop offset="0.250" stop-color="#fafc15"/><stop offset="0.333" stop-color="#ebed14"/><stop offset="0.417" stop-color="#dcdd12"/><stop offset="0.500" stop-color="#cbcc11"/><stop offset="0.583" stop-color="#babb0f"/><stop offset="0.667" stop-color="#a7a80e"/><stop offset="0.750" stop-color="#94950c"/><stop offset="0.833" stop-color="#80810b"/><stop offset="0.917" stop-color="#696a09"/><stop offset="1.000" stop-color="#525307"/></linearGradient><linearGradient id="g97" gradientUnits="userSpaceOnUse" x1="0" y1="102.07" x2="0" y2="175.93"><stop offset="0.000" stop-color="#ffff17"/><stop offset="0.083" stop-color="#ffff17"/><stop offset="0.167" stop-color="#ffff16"/><stop offset="0.250" stop-color="#fbfc15"/><stop offset="0.333" stop-color="#edee14"/><stop offset="0.417" stop-color="#dedf12"/><stop offset="0.500" stop-color="#cecf11"/><stop offset="0.583" stop-color="#bdbf10"/><stop offset="0.667" stop-color="#acad0e"/><stop offset="0.750" stop-color="#9a9b0d"/><stop offset="0.833" stop-color="#87880b"/><stop offset="0.917" stop-color="#727209"/><stop offset="1.000" stop-color="#535307"/></linearGradient><linearGradient id="g98" gradientUnits="userSpaceOnUse" x1="0" y1="103.22" x2="0" y2="174.78"><stop offset="0.000" stop-color="#ffff17"/><stop offset="0.083" stop-color="#ffff17"/><stop offset="0.167" stop-color="#ffff16"/><stop offset="0.250" stop-color="#fbfc15"/><stop offset="0.333" stop-color="#edef14"/><stop offset="0.417" stop-color="#dfe112"/><stop offset="0.500" stop-color="#d1d211"/><stop offset="0.583" stop-color="#c1c210"/><stop offset="0.667" stop-color="#b1b20f"/><stop offset="0.750" stop-color="#a0a10d"/><stop offset="0.833" stop-color="#8e8f0c"/><stop offset="0.917" stop-color="#7a7a0a"/><stop offset="1.000" stop-color="#5d5d08"/></linearGradient><linearGradient id="g99" gradientUnits="userSpaceOnUse" x1="0" y1="104.49" x2="0" y2="173.51"><stop offset="0.000" stop-color="#ffff17"/><stop offset="0.083" stop-color="#ffff17"/><stop offset="0.167" stop-color="#ffff16"/><stop offset="0.250" stop-color="#fafc15"/><stop offset="0.333" stop-color="#eeef14"/><stop offset="0.417" stop-color="#e1e213"/><stop offset="0.500" stop-color="#d3d412"/><stop offset="0.583" stop-color="#c4c611"/><stop offset="0.667" stop-color="#b5b60f"/><stop offset="0.750" stop-color="#a5a60e"/><stop offset="0.833" stop-color="#94950d"/><stop offset="0.917" stop-color="#82830b"/><stop offset="1.000" stop-color="#676709"/></linearGradient><linearGradient id="g100" gradientUnits="userSpaceOnUse" x1="0" y1="105.92" x2="0" y2="172.08"><stop offset="0.000" stop-color="#ffff18"/><stop offset="0.083" stop-color="#ffff17"/><stop offset="0.167" stop-color="#ffff17"/><stop offset="0.250" stop-color="#f9fa16"/><stop offset="0.333" stop-color="#eeef15"/><stop offset="0.417" stop-color="#e2e314"/><stop offset="0.500" stop-color="#d5d613"/><stop offset="0.583" stop-color="#c7c811"/><stop offset="0.667" stop-color="#b9ba10"/><stop offset="0.750" stop-color="#abab0f"/><stop offset="0.833" stop-color="#9b9c0e"/><stop offset="0.917" stop-color="#8a8a0c"/><stop offset="1.000" stop-color="#71710a"/></linearGradient><linearGradient id="g101" gradientUnits="userSpaceOnUse" x1="0" y1="107.53" x2="0" y2="170.47"><stop offset="0.000" stop-color="#ffff18"/><stop offset="0.083" stop-color="#ffff18"/><stop offset="0.167" stop-color="#ffff18"/><stop offset="0.250" stop-color="#f7f817"/><stop offset="0.333" stop-color="#eded16"/><stop offset="0.417" stop-color="#e2e215"/><stop offset="0.500" stop-color="#d6d714"/><stop offset="0.583" stop-color="#cacb13"/><stop offset="0.667" stop-color="#bdbe11"/><stop offset="0.750" stop-color="#b0b010"/><stop offset="0.833" stop-color="#a2a20f"/><stop offset="0.917" stop-color="#92920d"/><stop offset="1.000" stop-color="#7b7c0b"/></linearGradient><linearGradient id="g102" gradientUnits="userSpaceOnUse" x1="0" y1="109.36" x2="0" y2="168.64"><stop offset="0.000" stop-color="#ffff1a"/><stop offset="0.083" stop-color="#ffff1a"/><stop offset="0.167" stop-color="#fefd19"/><stop offset="0.250" stop-color="#f5f518"/><stop offset="0.333" stop-color="#eceb17"/><stop offset="0.417" stop-color="#e2e116"/><stop offset="0.500" stop-color="#d7d715"/><stop offset="0.583" stop-color="#cccc14"/><stop offset="0.667" stop-color="#c1c113"/><stop offset="0.750" stop-color="#b5b512"/><stop offset="0.833" stop-color="#a8a810"/><stop offset="0.917" stop-color="#9a9a0f"/><stop offset="1.000" stop-color="#86860d"/></linearGradient><linearGradient id="g103" gradientUnits="userSpaceOnUse" x1="0" y1="111.49" x2="0" y2="166.51"><stop offset="0.000" stop-color="#ffff1b"/><stop offset="0.083" stop-color="#fffe1b"/><stop offset="0.167" stop-color="#f9f81a"/><stop offset="0.250" stop-color="#f2f01a"/><stop offset="0.333" stop-color="#eae819"/><stop offset="0.417" stop-color="#e1df18"/><stop offset="0.500" stop-color="#d8d617"/><stop offset="0.583" stop-color="#cecd16"/><stop offset="0.667" stop-color="#c4c315"/><stop offset="0.750" stop-color="#bab914"/><stop offset="0.833" stop-color="#afae13"/><stop offset="0.917" stop-color="#a3a111"/><stop offset="1.000" stop-color="#91900f"/></linearGradient><linearGradient id="g104" gradientUnits="userSpaceOnUse" x1="0" y1="114.03" x2="0" y2="163.97"><stop offset="0.000" stop-color="#faf61d"/><stop offset="0.083" stop-color="#f9f61d"/><stop offset="0.167" stop-color="#f4f11c"/><stop offset="0.250" stop-color="#eeea1c"/><stop offset="0.333" stop-color="#e7e41b"/><stop offset="0.417" stop-color="#dfdc1a"/><stop offset="0.500" stop-color="#d8d519"/><stop offset="0.583" stop-color="#d0cd18"/><stop offset="0.667" stop-color="#c7c517"/><stop offset="0.750" stop-color="#bfbc16"/><stop offset="0.833" stop-color="#b5b315"/><stop offset="0.917" stop-color="#aba914"/><stop offset="1.000" stop-color="#9c9a12"/></linearGradient><linearGradient id="g105" gradientUnits="userSpaceOnUse" x1="0" y1="117.22" x2="0" y2="160.78"><stop offset="0.000" stop-color="#f2ec1f"/><stop offset="0.083" stop-color="#f1ec1f"/><stop offset="0.167" stop-color="#ede71e"/><stop offset="0.250" stop-color="#e8e31e"/><stop offset="0.333" stop-color="#e3dd1d"/><stop offset="0.417" stop-color="#ddd81c"/><stop offset="0.500" stop-color="#d7d21b"/><stop offset="0.583" stop-color="#d1cc1b"/><stop offset="0.667" stop-color="#cac51a"/><stop offset="0.750" stop-color="#c3bf19"/><stop offset="0.833" stop-color="#bcb718"/><stop offset="0.917" stop-color="#b4b017"/><stop offset="1.000" stop-color="#a8a415"/></linearGradient><linearGradient id="g106" gradientUnits="userSpaceOnUse" x1="0" y1="121.62" x2="0" y2="156.38"><stop offset="0.000" stop-color="#e8de21"/><stop offset="0.083" stop-color="#e7de21"/><stop offset="0.167" stop-color="#e4db20"/><stop offset="0.250" stop-color="#e1d820"/><stop offset="0.333" stop-color="#ddd51f"/><stop offset="0.417" stop-color="#dad11f"/><stop offset="0.500" stop-color="#d5cd1e"/><stop offset="0.583" stop-color="#d1c91e"/><stop offset="0.667" stop-color="#cdc51d"/><stop offset="0.750" stop-color="#c8c01c"/><stop offset="0.833" stop-color="#c3bb1c"/><stop offset="0.917" stop-color="#bdb61b"/><stop offset="1.000" stop-color="#b6ae1a"/></linearGradient><linearGradient id="g107" gradientUnits="userSpaceOnUse" x1="0" y1="129.86" x2="0" y2="148.14"><stop offset="0.000" stop-color="#daca23"/><stop offset="0.083" stop-color="#daca23"/><stop offset="0.167" stop-color="#d9c922"/><stop offset="0.250" stop-color="#d7c822"/><stop offset="0.333" stop-color="#d6c722"/><stop offset="0.417" stop-color="#d4c522"/><stop offset="0.500" stop-color="#d3c421"/><stop offset="0.583" stop-color="#d1c221"/><stop offset="0.667" stop-color="#d0c121"/><stop offset="0.750" stop-color="#cebf21"/><stop offset="0.833" stop-color="#ccbd20"/><stop offset="0.917" stop-color="#cabb20"/><stop offset="1.000" stop-color="#c7b81f"/></linearGradient><linearGradient id="cbar" x1="0" y1="0" x2="0" y2="1"><stop offset="0.0000" stop-color="#f9fb15"/><stop offset="0.0159" stop-color="#f7f51b"/><stop offset="0.0317" stop-color="#f6ef20"/><stop offset="0.0476" stop-color="#f5e924"/><stop offset="0.0635" stop-color="#f5e327"/><stop offset="0.0794" stop-color="#f7dc2a"/><stop offset="0.0952" stop-color="#fad62d"/><stop offset="0.1111" stop-color="#fccf30"/><stop offset="0.1270" stop-color="#fec934"/><stop offset="0.1429" stop-color="#fec338"/><stop offset="0.1587" stop-color="#febe3c"/><stop offset="0.1746" stop-color="#f8ba3d"/><stop offset="0.1905" stop-color="#f0ba36"/><stop offset="0.2063" stop-color="#e6bb2d"/><stop offset="0.2222" stop-color="#dcbd29"/><stop offset="0.2381" stop-color="#d1bf27"/><stop offset="0.2540" stop-color="#c5c22a"/><stop offset="0.2698" stop-color="#b9c431"/><stop offset="0.2857" stop-color="#abc739"/><stop offset="0.3016" stop-color="#9dc943"/><stop offset="0.3175" stop-color="#8fcb4e"/><stop offset="0.3333" stop-color="#81cc59"/><stop offset="0.3492" stop-color="#72cd64"/><stop offset="0.3651" stop-color="#64cd6f"/><stop offset="0.3810" stop-color="#57cc7a"/><stop offset="0.3968" stop-color="#4acb84"/><stop offset="0.4127" stop-color="#3fca8e"/><stop offset="0.4286" stop-color="#37c897"/><stop offset="0.4444" stop-color="#31c69f"/><stop offset="0.4603" stop-color="#2cc4a7"/><stop offset="0.4762" stop-color="#24c1ae"/><stop offset="0.4921" stop-color="#19bfb6"/><stop offset="0.5079" stop-color="#0bbdbd"/><stop offset="0.5238" stop-color="#02bac3"/><stop offset="0.5397" stop-color="#01b8ca"/><stop offset="0.5556" stop-color="#08b5d0"/><stop offset="0.5714" stop-color="#12b1d6"/><stop offset="0.5873" stop-color="#18addb"/><stop offset="0.6032" stop-color="#1ca9df"/><stop offset="0.6190" stop-color="#20a5e3"/><stop offset="0.6349" stop-color="#23a0e5"/><stop offset="0.6508" stop-color="#259be8"/><stop offset="0.6667" stop-color="#2797eb"/><stop offset="0.6825" stop-color="#2b91ef"/><stop offset="0.6984" stop-color="#2d8cf3"/><stop offset="0.7143" stop-color="#2e87f7"/><stop offset="0.7302" stop-color="#2f81fa"/><stop offset="0.7460" stop-color="#327cfc"/><stop offset="0.7619" stop-color="#3875fe"/><stop offset="0.7778" stop-color="#3e6fff"/><stop offset="0.7937" stop-color="#4269fe"/><stop offset="0.8095" stop-color="#4563fd"/><stop offset="0.8254" stop-color="#465efb"/><stop offset="0.8413" stop-color="#4758f8"/><stop offset="0.8571" stop-color="#4852f4"/><stop offset="0.8730" stop-color="#484df0"/><stop offset="0.8889" stop-color="#4747eb"/><stop offset="0.9048" stop-color="#4741e5"/><stop offset="0.9206" stop-color="#463cde"/><stop offset="0.9365" stop-color="#4537d5"/><stop offset="0.9524" stop-color="#4332cb"/><stop offset="0.9683" stop-color="#422ec0"/><stop offset="0.9841" stop-color="#402ab4"/><stop offset="1.0000" stop-color="#3e26a8"/></linearGradient></defs>
<g id="icon" stroke="#000" fill="none" stroke-linecap="round" stroke-width="3.9"><path d="M23.7 24H86V69H23.7Z M29.2 30.5V63.7H81.3V30.5Z" fill="#000" fill-rule="evenodd" stroke="none"/><line x1="54.9" y1="22.95" x2="54.9" y2="25"/><line x1="22.2" y1="25.95" x2="87.9" y2="25.95"/><line x1="22.2" y1="67.05" x2="87.9" y2="67.05"/><line x1="54.9" y1="68" x2="54.9" y2="87.3"/><line x1="54.9" y1="67.4" x2="37.3" y2="84.6"/><line x1="54.9" y1="67.4" x2="72.9" y2="84.6"/></g>
<text x="53.7" y="54.55" text-anchor="middle" style="font-family:'DejaVu Sans','Liberation Sans',sans-serif;font-size:20.2px;fill:#000;text-rendering:geometricPrecision;letter-spacing:-0.2px">50</text>
<text x="159.6" y="39.9" class="tt" text-anchor="middle">Antenna Array = 4 by 1</text>
<text x="159.9" y="54.9" class="tt" text-anchor="middle" style="letter-spacing:0.07px">Steering Angle=[49 0]</text>
<g id="pat-back" clip-path="url(#sil)"><rect x="106" y="130.65" width="1.08" height="13.66" fill="url(#g0)"/><rect x="107" y="126.82" width="1.08" height="21.38" fill="url(#g1)"/><rect x="108" y="124.33" width="1.08" height="26.41" fill="url(#g2)"/><rect x="109" y="122.43" width="1.08" height="30.28" fill="url(#g3)"/><rect x="110" y="120.88" width="1.08" height="33.43" fill="url(#g4)"/><rect x="111" y="119.58" width="1.08" height="36.09" fill="url(#g5)"/><rect x="112" y="118.48" width="1.08" height="38.35" fill="url(#g6)"/><rect x="113" y="117.54" width="1.08" height="40.29" fill="url(#g7)"/><rect x="114" y="116.72" width="1.08" height="41.97" fill="url(#g8)"/><rect x="115" y="116.04" width="1.08" height="43.40" fill="url(#g9)"/><rect x="116" y="115.45" width="1.08" height="44.63" fill="url(#g10)"/><rect x="117" y="114.96" width="1.08" height="45.66" fill="url(#g11)"/><rect x="118" y="114.56" width="1.08" height="46.52" fill="url(#g12)"/><rect x="119" y="114.24" width="1.08" height="47.21" fill="url(#g13)"/><rect x="120" y="114.00" width="1.08" height="47.75" fill="url(#g14)"/><rect x="121" y="113.83" width="1.08" height="48.15" fill="url(#g15)"/><rect x="122" y="113.74" width="1.08" height="48.40" fill="url(#g16)"/><rect x="123" y="113.70" width="1.08" height="48.52" fill="url(#g17)"/><rect x="124" y="113.74" width="1.08" height="48.51" fill="url(#g18)"/><rect x="125" y="113.83" width="1.08" height="48.38" fill="url(#g19)"/><rect x="126" y="113.98" width="1.08" height="48.13" fill="url(#g20)"/><rect x="127" y="114.19" width="1.08" height="47.77" fill="url(#g21)"/><rect x="128" y="114.46" width="1.08" height="47.30" fill="url(#g22)"/><rect x="129" y="114.78" width="1.08" height="46.72" fill="url(#g23)"/><rect x="130" y="115.14" width="1.08" height="46.04" fill="url(#g24)"/><rect x="131" y="115.56" width="1.08" height="45.26" fill="url(#g25)"/><rect x="132" y="116.02" width="1.08" height="44.40" fill="url(#g26)"/><rect x="133" y="116.53" width="1.08" height="43.44" fill="url(#g27)"/><rect x="134" y="101.96" width="1.08" height="72.63" fill="url(#g28)"/><rect x="135" y="100.67" width="1.08" height="75.27" fill="url(#g29)"/><rect x="136" y="99.86" width="1.08" height="76.94" fill="url(#g30)"/><rect x="137" y="99.34" width="1.08" height="78.04" fill="url(#g31)"/><rect x="138" y="99.03" width="1.08" height="78.73" fill="url(#g32)"/><rect x="139" y="98.88" width="1.08" height="79.07" fill="url(#g33)"/><rect x="140" y="98.89" width="1.08" height="79.12" fill="url(#g34)"/><rect x="141" y="99.03" width="1.08" height="78.88" fill="url(#g35)"/><rect x="142" y="99.32" width="1.08" height="78.37" fill="url(#g36)"/><rect x="143" y="99.75" width="1.08" height="77.57" fill="url(#g37)"/><rect x="144" y="100.32" width="1.08" height="76.48" fill="url(#g38)"/><rect x="145" y="101.05" width="1.08" height="75.08" fill="url(#g39)"/><rect x="146" y="101.95" width="1.08" height="73.33" fill="url(#g40)"/><rect x="147" y="103.05" width="1.08" height="71.19" fill="url(#g41)"/><rect x="148" y="104.36" width="1.08" height="68.64" fill="url(#g42)"/><rect x="149" y="105.90" width="1.08" height="65.61" fill="url(#g43)"/><rect x="150" y="107.72" width="1.08" height="62.01" fill="url(#g44)"/><rect x="151" y="109.84" width="1.08" height="57.84" fill="url(#g45)"/><rect x="152" y="112.26" width="1.08" height="53.05" fill="url(#g46)"/><rect x="153" y="115.00" width="1.08" height="47.63" fill="url(#g47)"/><rect x="154" y="99.52" width="1.08" height="78.64" fill="url(#g48)"/><rect x="155" y="97.41" width="1.08" height="82.94" fill="url(#g49)"/><rect x="156" y="96.10" width="1.08" height="85.59" fill="url(#g50)"/><rect x="157" y="95.24" width="1.08" height="87.39" fill="url(#g51)"/><rect x="158" y="94.66" width="1.08" height="88.59" fill="url(#g52)"/><rect x="159" y="94.32" width="1.08" height="89.33" fill="url(#g53)"/><rect x="160" y="94.18" width="1.08" height="89.64" fill="url(#g54)"/><rect x="161" y="94.22" width="1.08" height="89.56" fill="url(#g55)"/><rect x="162" y="94.47" width="1.08" height="89.06" fill="url(#g56)"/><rect x="163" y="94.96" width="1.08" height="88.08" fill="url(#g57)"/><rect x="164" y="95.77" width="1.08" height="86.46" fill="url(#g58)"/><rect x="165" y="97.07" width="1.08" height="83.86" fill="url(#g59)"/><rect x="166" y="99.45" width="1.08" height="79.10" fill="url(#g60)"/></g>
<line x1="159.9" y1="85.2" x2="159.9" y2="97" stroke="#000" stroke-width="2"/>
<text x="160.0" y="65.8" class="ax">z</text>
<text x="160.0" y="82.6" class="ax">Az 0</text>
<g id="pat-front" clip-path="url(#sil)"><rect x="167" y="111.96" width="1.08" height="54.09" fill="url(#g61)"/><rect x="168" y="109.34" width="1.08" height="59.32" fill="url(#g62)"/><rect x="169" y="106.98" width="1.08" height="64.04" fill="url(#g63)"/><rect x="170" y="104.91" width="1.08" height="68.18" fill="url(#g64)"/><rect x="171" y="103.07" width="1.08" height="71.86" fill="url(#g65)"/><rect x="172" y="101.47" width="1.08" height="75.06" fill="url(#g66)"/><rect x="173" y="100.07" width="1.08" height="77.86" fill="url(#g67)"/><rect x="174" y="98.84" width="1.08" height="80.32" fill="url(#g68)"/><rect x="175" y="97.77" width="1.08" height="82.46" fill="url(#g69)"/><rect x="176" y="96.84" width="1.08" height="84.32" fill="url(#g70)"/><rect x="177" y="96.03" width="1.08" height="85.93" fill="url(#g71)"/><rect x="178" y="95.34" width="1.08" height="87.33" fill="url(#g72)"/><rect x="179" y="94.74" width="1.08" height="88.53" fill="url(#g73)"/><rect x="180" y="94.23" width="1.08" height="89.54" fill="url(#g74)"/><rect x="181" y="93.80" width="1.08" height="90.39" fill="url(#g75)"/><rect x="182" y="93.46" width="1.08" height="91.09" fill="url(#g76)"/><rect x="183" y="93.18" width="1.08" height="91.64" fill="url(#g77)"/><rect x="184" y="92.97" width="1.08" height="92.05" fill="url(#g78)"/><rect x="185" y="92.83" width="1.08" height="92.34" fill="url(#g79)"/><rect x="186" y="92.75" width="1.08" height="92.50" fill="url(#g80)"/><rect x="187" y="92.73" width="1.08" height="92.54" fill="url(#g81)"/><rect x="188" y="92.76" width="1.08" height="92.47" fill="url(#g82)"/><rect x="189" y="92.86" width="1.08" height="92.28" fill="url(#g83)"/><rect x="190" y="93.01" width="1.08" height="91.99" fill="url(#g84)"/><rect x="191" y="93.21" width="1.08" height="91.57" fill="url(#g85)"/><rect x="192" y="93.47" width="1.08" height="91.05" fill="url(#g86)"/><rect x="193" y="93.79" width="1.08" height="90.42" fill="url(#g87)"/><rect x="194" y="94.17" width="1.08" height="89.67" fill="url(#g88)"/><rect x="195" y="94.60" width="1.08" height="88.80" fill="url(#g89)"/><rect x="196" y="95.10" width="1.08" height="87.81" fill="url(#g90)"/><rect x="197" y="95.65" width="1.08" height="86.69" fill="url(#g91)"/><rect x="198" y="96.28" width="1.08" height="85.45" fill="url(#g92)"/><rect x="199" y="96.97" width="1.08" height="84.06" fill="url(#g93)"/><rect x="200" y="97.74" width="1.08" height="82.52" fill="url(#g94)"/><rect x="201" y="98.59" width="1.08" height="80.82" fill="url(#g95)"/><rect x="202" y="99.53" width="1.08" height="78.94" fill="url(#g96)"/><rect x="203" y="100.57" width="1.08" height="76.86" fill="url(#g97)"/><rect x="204" y="101.72" width="1.08" height="74.57" fill="url(#g98)"/><rect x="205" y="102.99" width="1.08" height="72.01" fill="url(#g99)"/><rect x="206" y="104.42" width="1.08" height="69.15" fill="url(#g100)"/><rect x="207" y="106.03" width="1.08" height="65.94" fill="url(#g101)"/><rect x="208" y="107.86" width="1.08" height="62.28" fill="url(#g102)"/><rect x="209" y="109.99" width="1.08" height="58.02" fill="url(#g103)"/><rect x="210" y="112.53" width="1.08" height="52.94" fill="url(#g104)"/><rect x="211" y="115.72" width="1.08" height="46.56" fill="url(#g105)"/><rect x="212" y="120.12" width="1.08" height="37.75" fill="url(#g106)"/><rect x="213" y="128.36" width="1.08" height="21.29" fill="url(#g107)"/></g>
<polygon points="106.25,133.73 106.50,132.15 106.75,130.94 107.00,129.95 107.25,129.10 107.50,128.32 107.75,127.63 108.00,126.97 108.25,126.39 108.50,125.83 108.75,125.32 109.00,124.82 109.25,124.37 109.50,123.93 109.75,123.51 110.00,123.11 110.25,122.73 110.50,122.38 110.75,122.03 111.00,121.70 111.25,121.38 111.50,121.08 111.75,120.79 112.00,120.51 112.25,120.24 112.50,119.98 112.75,119.72 113.00,119.48 113.25,119.25 113.50,119.04 113.75,118.82 114.00,118.61 114.25,118.42 114.50,118.22 114.75,118.04 115.00,117.87 115.25,117.70 115.50,117.54 115.75,117.38 116.00,117.23 116.25,117.09 116.50,116.95 116.75,116.82 117.00,116.70 117.25,116.58 117.50,116.46 117.75,116.36 118.00,116.25 118.25,116.16 118.50,116.06 118.75,115.98 119.00,115.89 119.25,115.82 119.50,115.74 119.75,115.68 120.00,115.61 120.25,115.56 120.50,115.50 120.75,115.45 121.00,115.41 121.25,115.37 121.50,115.33 121.75,115.30 122.00,115.28 122.25,115.25 122.50,115.24 122.75,115.22 123.00,115.21 123.25,115.21 123.50,115.20 123.75,115.21 124.00,115.21 124.25,115.22 124.50,115.24 124.75,115.25 125.00,115.27 125.25,115.30 125.50,115.33 125.75,115.36 126.00,115.40 126.25,115.44 126.50,115.48 126.75,115.53 127.00,115.58 127.25,115.63 127.50,115.69 127.75,115.75 128.00,115.82 128.25,115.89 128.50,115.96 128.75,116.03 129.00,116.11 129.25,116.19 129.50,116.28 129.75,116.36 130.00,116.45 130.25,116.55 130.50,116.64 130.75,116.75 131.00,116.85 131.25,116.95 131.50,117.06 131.75,117.17 132.00,117.28 132.25,117.41 132.50,117.52 132.75,117.65 133.00,117.77 133.25,117.90 133.50,118.03 133.75,105.34 134.00,104.52 134.25,103.93 134.50,103.46 134.75,103.07 135.00,102.73 135.25,102.43 135.50,102.17 135.75,101.93 136.00,101.72 136.25,101.53 136.50,101.36 136.75,101.21 137.00,101.07 137.25,100.95 137.50,100.84 137.75,100.75 138.00,100.66 138.25,100.59 138.50,100.53 138.75,100.48 139.00,100.44 139.25,100.40 139.50,100.38 139.75,100.37 140.00,100.37 140.25,100.37 140.50,100.39 140.75,100.41 141.00,100.44 141.25,100.48 141.50,100.53 141.75,100.59 142.00,100.66 142.25,100.74 142.50,100.82 142.75,100.91 143.00,101.02 143.25,101.13 143.50,101.25 143.75,101.38 144.00,101.51 144.25,101.66 144.50,101.82 144.75,101.99 145.00,102.17 145.25,102.35 145.50,102.55 145.75,102.76 146.00,102.98 146.25,103.21 146.50,103.45 146.75,103.71 147.00,103.97 147.25,104.26 147.50,104.55 147.75,104.85 148.00,105.17 148.25,105.51 148.50,105.86 148.75,106.22 149.00,106.60 149.25,106.99 149.50,107.40 149.75,107.83 150.00,108.27 150.25,108.74 150.50,109.22 150.75,109.72 151.00,110.24 151.25,110.77 151.50,111.34 151.75,111.91 152.00,112.50 152.25,113.13 152.50,113.76 152.75,114.43 153.00,115.09 153.25,115.79 153.50,116.50 153.75,104.39 154.00,102.84 154.25,101.82 154.50,101.02 154.75,100.37 155.00,99.81 155.25,99.33 155.50,98.91 155.75,98.53 156.00,98.19 156.25,97.88 156.50,97.60 156.75,97.35 157.00,97.13 157.25,96.92 157.50,96.74 157.75,96.57 158.00,96.42 158.25,96.28 158.50,96.16 158.75,96.06 159.00,95.97 159.25,95.89 159.50,95.82 159.75,95.77 160.00,95.73 160.25,95.70 160.50,95.68 160.75,95.67 161.00,95.67 161.25,95.69 161.50,95.72 161.75,95.76 162.00,95.82 162.25,95.89 162.50,95.97 162.75,96.07 163.00,96.18 163.25,96.31 163.50,96.46 163.75,96.63 164.00,96.82 164.25,97.03 164.50,97.27 164.75,97.54 165.00,97.84 165.25,98.18 165.50,98.57 165.75,99.01 166.00,99.54 166.25,100.16 166.50,100.95 166.75,102.02 167.00,103.96 167.25,114.15 167.50,113.46 167.75,112.77 168.00,112.11 168.25,111.47 168.50,110.84 168.75,110.22 169.00,109.62 169.25,109.05 169.50,108.48 169.75,107.95 170.00,107.41 170.25,106.90 170.50,106.41 170.75,105.93 171.00,105.47 171.25,105.01 171.50,104.57 171.75,104.15 172.00,103.75 172.25,103.35 172.50,102.97 172.75,102.60 173.00,102.24 173.25,101.90 173.50,101.57 173.75,101.25 174.00,100.93 174.25,100.63 174.50,100.34 174.75,100.06 175.00,99.79 175.25,99.52 175.50,99.27 175.75,99.03 176.00,98.79 176.25,98.56 176.50,98.34 176.75,98.13 177.00,97.92 177.25,97.72 177.50,97.53 177.75,97.35 178.00,97.17 178.25,97.00 178.50,96.84 178.75,96.68 179.00,96.52 179.25,96.38 179.50,96.24 179.75,96.10 180.00,95.97 180.25,95.85 180.50,95.73 180.75,95.61 181.00,95.51 181.25,95.40 181.50,95.30 181.75,95.21 182.00,95.12 182.25,95.04 182.50,94.96 182.75,94.88 183.00,94.81 183.25,94.74 183.50,94.68 183.75,94.62 184.00,94.57 184.25,94.52 184.50,94.47 184.75,94.43 185.00,94.39 185.25,94.36 185.50,94.33 185.75,94.30 186.00,94.28 186.25,94.26 186.50,94.25 186.75,94.24 187.00,94.23 187.25,94.23 187.50,94.23 187.75,94.23 188.00,94.24 188.25,94.25 188.50,94.26 188.75,94.28 189.00,94.30 189.25,94.33 189.50,94.36 189.75,94.39 190.00,94.43 190.25,94.46 190.50,94.51 190.75,94.55 191.00,94.60 191.25,94.66 191.50,94.71 191.75,94.77 192.00,94.84 192.25,94.90 192.50,94.97 192.75,95.05 193.00,95.13 193.25,95.21 193.50,95.29 193.75,95.38 194.00,95.47 194.25,95.57 194.50,95.67 194.75,95.77 195.00,95.88 195.25,95.99 195.50,96.10 195.75,96.22 196.00,96.34 196.25,96.47 196.50,96.60 196.75,96.73 197.00,96.87 197.25,97.01 197.50,97.15 197.75,97.30 198.00,97.46 198.25,97.61 198.50,97.78 198.75,97.94 199.00,98.12 199.25,98.29 199.50,98.47 199.75,98.66 200.00,98.85 200.25,99.04 200.50,99.24 200.75,99.45 201.00,99.65 201.25,99.87 201.50,100.09 201.75,100.32 202.00,100.55 202.25,100.79 202.50,101.03 202.75,101.28 203.00,101.54 203.25,101.80 203.50,102.07 203.75,102.34 204.00,102.63 204.25,102.92 204.50,103.22 204.75,103.52 205.00,103.84 205.25,104.16 205.50,104.49 205.75,104.84 206.00,105.19 206.25,105.55 206.50,105.92 206.75,106.30 207.00,106.70 207.25,107.11 207.50,107.53 207.75,107.96 208.00,108.41 208.25,108.88 208.50,109.36 208.75,109.86 209.00,110.38 209.25,110.92 209.50,111.49 209.75,112.08 210.00,112.70 210.25,113.35 210.50,114.03 210.75,114.76 211.00,115.53 211.25,116.34 211.50,117.22 211.75,118.17 212.00,119.21 212.25,120.35 212.50,121.62 212.75,123.08 213.00,124.81 213.25,126.94 213.50,129.86 213.75,135.51 213.75,142.49 213.50,148.14 213.25,151.06 213.00,153.19 212.75,154.92 212.50,156.38 212.25,157.65 212.00,158.79 211.75,159.83 211.50,160.78 211.25,161.66 211.00,162.47 210.75,163.24 210.50,163.97 210.25,164.65 210.00,165.30 209.75,165.92 209.50,166.51 209.25,167.08 209.00,167.62 208.75,168.14 208.50,168.64 208.25,169.12 208.00,169.59 207.75,170.04 207.50,170.47 207.25,170.89 207.00,171.30 206.75,171.70 206.50,172.08 206.25,172.45 206.00,172.81 205.75,173.16 205.50,173.51 205.25,173.84 205.00,174.16 204.75,174.48 204.50,174.78 204.25,175.08 204.00,175.37 203.75,175.66 203.50,175.93 203.25,176.20 203.00,176.46 202.75,176.72 202.50,176.97 202.25,177.21 202.00,177.45 201.75,177.68 201.50,177.91 201.25,178.13 201.00,178.35 200.75,178.55 200.50,178.76 200.25,178.96 200.00,179.15 199.75,179.34 199.50,179.53 199.25,179.71 199.00,179.88 198.75,180.06 198.50,180.22 198.25,180.39 198.00,180.54 197.75,180.70 197.50,180.85 197.25,180.99 197.00,181.13 196.75,181.27 196.50,181.40 196.25,181.53 196.00,181.66 195.75,181.78 195.50,181.90 195.25,182.01 195.00,182.12 194.75,182.23 194.50,182.33 194.25,182.43 194.00,182.53 193.75,182.62 193.50,182.71 193.25,182.79 193.00,182.87 192.75,182.95 192.50,183.03 192.25,183.10 192.00,183.16 191.75,183.23 191.50,183.29 191.25,183.34 191.00,183.40 190.75,183.45 190.50,183.49 190.25,183.54 190.00,183.57 189.75,183.61 189.50,183.64 189.25,183.67 189.00,183.70 188.75,183.72 188.50,183.74 188.25,183.75 188.00,183.76 187.75,183.77 187.50,183.77 187.25,183.77 187.00,183.77 186.75,183.76 186.50,183.75 186.25,183.74 186.00,183.72 185.75,183.70 185.50,183.67 185.25,183.64 185.00,183.61 184.75,183.57 184.50,183.53 184.25,183.48 184.00,183.43 183.75,183.38 183.50,183.32 183.25,183.26 183.00,183.19 182.75,183.12 182.50,183.04 182.25,182.96 182.00,182.88 181.75,182.79 181.50,182.70 181.25,182.60 181.00,182.49 180.75,182.39 180.50,182.27 180.25,182.15 180.00,182.03 179.75,181.90 179.50,181.76 179.25,181.62 179.00,181.48 178.75,181.32 178.50,181.16 178.25,181.00 178.00,180.83 177.75,180.65 177.50,180.47 177.25,180.28 177.00,180.08 176.75,179.87 176.50,179.66 176.25,179.44 176.00,179.21 175.75,178.97 175.50,178.73 175.25,178.48 175.00,178.21 174.75,177.94 174.50,177.66 174.25,177.37 174.00,177.07 173.75,176.75 173.50,176.43 173.25,176.10 173.00,175.76 172.75,175.40 172.50,175.03 172.25,174.65 172.00,174.25 171.75,173.85 171.50,173.43 171.25,172.99 171.00,172.53 170.75,172.07 170.50,171.59 170.25,171.10 170.00,170.59 169.75,170.05 169.50,169.52 169.25,168.95 169.00,168.38 168.75,167.78 168.50,167.16 168.25,166.53 168.00,165.89 167.75,165.23 167.50,164.54 167.25,163.85 167.00,174.04 166.75,175.98 166.50,177.05 166.25,177.84 166.00,178.46 165.75,178.99 165.50,179.43 165.25,179.82 165.00,180.16 164.75,180.46 164.50,180.73 164.25,180.97 164.00,181.18 163.75,181.37 163.50,181.54 163.25,181.69 163.00,181.82 162.75,181.93 162.50,182.03 162.25,182.11 162.00,182.18 161.75,182.24 161.50,182.28 161.25,182.31 161.00,182.33 160.75,182.33 160.50,182.32 160.25,182.30 160.00,182.27 159.75,182.21 159.50,182.15 159.25,182.07 159.00,181.98 158.75,181.87 158.50,181.75 158.25,181.62 158.00,181.47 157.75,181.31 157.50,181.12 157.25,180.92 157.00,180.70 156.75,180.46 156.50,180.20 156.25,179.91 156.00,179.59 155.75,179.23 155.50,178.84 155.25,178.40 155.00,177.90 154.75,177.33 154.50,176.66 154.25,175.86 154.00,174.82 153.75,173.26 153.50,161.13 153.25,161.83 153.00,162.51 152.75,163.16 152.50,163.81 152.25,164.43 152.00,165.04 151.75,165.63 151.50,166.18 151.25,166.73 151.00,167.25 150.75,167.75 150.50,168.24 150.25,168.71 150.00,169.16 149.75,169.59 149.50,170.01 149.25,170.40 149.00,170.78 148.75,171.14 148.50,171.49 148.25,171.83 148.00,172.15 147.75,172.46 147.50,172.74 147.25,173.02 147.00,173.29 146.75,173.54 146.50,173.78 146.25,174.01 146.00,174.23 145.75,174.43 145.50,174.63 145.25,174.81 145.00,174.98 144.75,175.15 144.50,175.30 144.25,175.44 144.00,175.58 143.75,175.70 143.50,175.82 143.25,175.92 143.00,176.02 142.75,176.11 142.50,176.19 142.25,176.26 142.00,176.32 141.75,176.37 141.50,176.42 141.25,176.45 141.00,176.48 140.75,176.50 140.50,176.51 140.25,176.51 140.00,176.50 139.75,176.48 139.50,176.45 139.25,176.42 139.00,176.37 138.75,176.32 138.50,176.25 138.25,176.18 138.00,176.09 137.75,175.99 137.50,175.88 137.25,175.76 137.00,175.62 136.75,175.47 136.50,175.30 136.25,175.12 136.00,174.92 135.75,174.69 135.50,174.44 135.25,174.16 135.00,173.85 134.75,173.50 134.50,173.09 134.25,172.60 134.00,172.00 133.75,171.17 133.50,158.47 133.25,158.58 133.00,158.69 132.75,158.81 132.50,158.92 132.25,159.02 132.00,159.13 131.75,159.22 131.50,159.32 131.25,159.41 131.00,159.51 130.75,159.59 130.50,159.68 130.25,159.76 130.00,159.84 129.75,159.92 129.50,159.99 129.25,160.06 129.00,160.13 128.75,160.19 128.50,160.25 128.25,160.31 128.00,160.37 127.75,160.42 127.50,160.46 127.25,160.51 127.00,160.55 126.75,160.58 126.50,160.62 126.25,160.65 126.00,160.67 125.75,160.69 125.50,160.71 125.25,160.73 125.00,160.74 124.75,160.75 124.50,160.75 124.25,160.75 124.00,160.74 123.75,160.74 123.50,160.72 123.25,160.71 123.00,160.69 122.75,160.66 122.50,160.64 122.25,160.60 122.00,160.57 121.75,160.53 121.50,160.48 121.25,160.43 121.00,160.38 120.75,160.32 120.50,160.25 120.25,160.19 120.00,160.12 119.75,160.04 119.50,159.96 119.25,159.87 119.00,159.78 118.75,159.68 118.50,159.58 118.25,159.47 118.00,159.36 117.75,159.25 117.50,159.12 117.25,158.99 117.00,158.86 116.75,158.72 116.50,158.58 116.25,158.43 116.00,158.27 115.75,158.11 115.50,157.94 115.25,157.76 115.00,157.58 114.75,157.39 114.50,157.19 114.25,156.99 114.00,156.77 113.75,156.56 113.50,156.33 113.25,156.09 113.00,155.85 112.75,155.59 112.50,155.33 112.25,155.05 112.00,154.77 111.75,154.47 111.50,154.17 111.25,153.85 111.00,153.52 110.75,153.18 110.50,152.81 110.25,152.44 110.00,152.05 109.75,151.64 109.50,151.21 109.25,150.75 109.00,150.28 108.75,149.77 108.50,149.24 108.25,148.67 108.00,148.07 107.75,147.41 107.50,146.70 107.25,145.91 107.00,145.05 106.75,144.04 106.50,142.81 106.25,141.22" fill="none" stroke="#3a3000" stroke-opacity="0.38" stroke-width="0.9" stroke-linejoin="round"/>
<clipPath id="zc"><path d="M150 80H200V97.6H182.4V110H150Z"/></clipPath>
<text x="160.0" y="99.1" class="ax" clip-path="url(#zc)" style="letter-spacing:0.15px">El 90</text>
<line x1="213.4" y1="137.4" x2="224.8" y2="137.4" stroke="#000" stroke-width="2"/>
<text x="235.0" y="125.7" class="ax">y</text>
<text x="234.8" y="142.7" class="ax">Az 90</text>
<text x="234.8" y="159.7" class="ax">El 0</text>
<path d="M160.1 143.6 V156 H172.6" fill="none" stroke="#000" stroke-width="2"/>
<text x="159.8" y="146.0" class="ax">el</text>
<text x="175.2" y="162.3" class="ax">az</text>
<text x="159.8" y="150.9" class="ax">x</text>
<text x="160.2" y="167.6" class="ax">Az 0</text>
<text x="160.2" y="185.0" class="ax">El 0</text>
<rect x="289.2" y="38.5" width="17.1" height="198" fill="url(#cbar)"/>
<rect x="289.2" y="38.5" width="17.1" height="198" fill="none" stroke="#262626" stroke-width="1"/>
<text x="311.2" y="42.90" class="cb">0</text>
<line x1="304.4" y1="78.10" x2="306.4" y2="78.10" stroke="#262626" stroke-width="1" stroke-opacity="0.8"/>
<text x="311.2" y="82.50" class="cb">-10</text>
<line x1="304.4" y1="117.70" x2="306.4" y2="117.70" stroke="#262626" stroke-width="1" stroke-opacity="0.8"/>
<text x="311.2" y="122.10" class="cb">-20</text>
<line x1="304.4" y1="157.30" x2="306.4" y2="157.30" stroke="#262626" stroke-width="1" stroke-opacity="0.8"/>
<text x="311.2" y="161.70" class="cb">-30</text>
<line x1="304.4" y1="196.90" x2="306.4" y2="196.90" stroke="#262626" stroke-width="1" stroke-opacity="0.8"/>
<text x="311.2" y="201.30" class="cb">-40</text>
<text x="311.2" y="240.90" class="cb">-50</text>
<text transform="translate(343.8,136.8) rotate(-90)" class="cl" text-anchor="middle">Normalized Power (dB)</text>
<text x="554.2" y="33.0" class="tt" text-anchor="middle">Steering Weight</text>
<rect x="454.5" y="38.5" width="199" height="198" fill="none" stroke="#262626" stroke-width="1"/>
<circle cx="520.90" cy="137.50" r="11.05" fill="none" stroke="#000" stroke-width="1.1"/>
<circle cx="543.00" cy="137.50" r="11.05" fill="none" stroke="#000" stroke-width="1.1"/>
<circle cx="565.10" cy="137.50" r="11.05" fill="none" stroke="#000" stroke-width="1.1"/>
<circle cx="587.20" cy="137.50" r="11.05" fill="none" stroke="#000" stroke-width="1.1"/>
<line x1="520.90" y1="137.50" x2="510.79" y2="133.05" stroke="#ff0000" stroke-width="1.1"/>
<circle cx="510.79" cy="133.05" r="2.2" fill="#ff0000"/>
<line x1="543.00" y1="137.50" x2="547.15" y2="147.74" stroke="#ff0000" stroke-width="1.1"/>
<circle cx="547.15" cy="147.74" r="2.2" fill="#ff0000"/>
<line x1="565.10" y1="137.50" x2="569.25" y2="127.26" stroke="#ff0000" stroke-width="1.1"/>
<circle cx="569.25" cy="127.26" r="2.2" fill="#ff0000"/>
<line x1="587.20" y1="137.50" x2="577.09" y2="141.95" stroke="#ff0000" stroke-width="1.1"/>
<circle cx="577.09" cy="141.95" r="2.2" fill="#ff0000"/>
<line x1="203.10" y1="421.50" x2="302.10" y2="421.50" stroke="#d6d6d6" stroke-width="1"/>
<line x1="203.10" y1="421.50" x2="288.84" y2="372.00" stroke="#d6d6d6" stroke-width="1"/>
<line x1="203.10" y1="421.50" x2="252.60" y2="335.76" stroke="#d6d6d6" stroke-width="1"/>
<line x1="203.10" y1="421.50" x2="203.10" y2="322.50" stroke="#d6d6d6" stroke-width="1"/>
<line x1="203.10" y1="421.50" x2="153.60" y2="335.76" stroke="#d6d6d6" stroke-width="1"/>
<line x1="203.10" y1="421.50" x2="117.36" y2="372.00" stroke="#d6d6d6" stroke-width="1"/>
<line x1="203.10" y1="421.50" x2="104.10" y2="421.50" stroke="#d6d6d6" stroke-width="1"/>
<line x1="203.10" y1="421.50" x2="117.36" y2="471.00" stroke="#d6d6d6" stroke-width="1"/>
<line x1="203.10" y1="421.50" x2="153.60" y2="507.24" stroke="#d6d6d6" stroke-width="1"/>
<line x1="203.10" y1="421.50" x2="203.10" y2="520.50" stroke="#d6d6d6" stroke-width="1"/>
<line x1="203.10" y1="421.50" x2="252.60" y2="507.24" stroke="#d6d6d6" stroke-width="1"/>
<line x1="203.10" y1="421.50" x2="288.84" y2="471.00" stroke="#d6d6d6" stroke-width="1"/>
<circle cx="203.10" cy="421.50" r="28.29" fill="none" stroke="#d6d6d6" stroke-width="1"/>
<circle cx="203.10" cy="421.50" r="56.57" fill="none" stroke="#d6d6d6" stroke-width="1"/>
<circle cx="203.10" cy="421.50" r="70.71" fill="none" stroke="#d6d6d6" stroke-width="1"/>
<circle cx="203.10" cy="421.50" r="84.86" fill="none" stroke="#d6d6d6" stroke-width="1"/>
<circle cx="203.10" cy="421.50" r="99.00" fill="none" stroke="#adadad" stroke-width="1"/>
<text x="203.00" y="317.15" class="tk" text-anchor="middle">90</text>
<text x="259.50" y="330.35" class="tk" text-anchor="middle">60</text>
<text x="296.80" y="368.25" class="tk" text-anchor="middle">30</text>
<text x="307.60" y="426.05" class="tk" text-anchor="middle">0</text>
<text x="300.00" y="483.25" class="tk" text-anchor="middle">330</text>
<text x="262.80" y="521.25" class="tk" text-anchor="middle">300</text>
<text x="203.00" y="533.55" class="tk" text-anchor="middle">270</text>
<text x="143.20" y="521.25" class="tk" text-anchor="middle">240</text>
<text x="106.00" y="483.25" class="tk" text-anchor="middle">210</text>
<text x="92.80" y="426.05" class="tk" text-anchor="middle">180</text>
<text x="105.60" y="368.25" class="tk" text-anchor="middle">150</text>
<text x="143.20" y="330.35" class="tk" text-anchor="middle">120</text>
<rect x="213.36" y="319.00" width="13.87" height="10" fill="#fff"/>
<text x="220.29" y="327.85" class="tk" text-anchor="middle">30</text>
<rect x="210.90" y="332.93" width="13.87" height="10" fill="#fff"/>
<text x="217.84" y="341.78" class="tk" text-anchor="middle">20</text>
<rect x="208.45" y="346.86" width="13.87" height="10" fill="#fff"/>
<text x="215.38" y="355.71" class="tk" text-anchor="middle">10</text>
<rect x="208.96" y="360.79" width="7.93" height="10" fill="#fff"/>
<text x="212.92" y="369.64" class="tk" text-anchor="middle">0</text>
<rect x="199.30" y="388.64" width="17.42" height="10" fill="#fff"/>
<text x="208.01" y="397.49" class="tk" text-anchor="middle">-20</text>
<rect x="194.39" y="416.50" width="17.42" height="10" fill="#fff"/>
<text x="203.10" y="425.35" class="tk" text-anchor="middle">-40</text>
<path d="M203.10 474.74 L204.03 474.74 L204.96 474.71 L205.89 474.67 L206.81 474.61 L207.74 474.54 L208.67 474.45 L209.59 474.35 L210.51 474.23 L211.43 474.09 L212.35 473.94 L213.26 473.77 L214.17 473.58 L215.08 473.38 L215.98 473.16 L216.88 472.93 L217.78 472.68 L218.67 472.42 L219.55 472.14 L220.43 471.84 L221.31 471.53 L222.18 471.21 L223.05 470.87 L223.90 470.51 L224.76 470.14 L225.60 469.76 L226.44 469.36 L227.27 468.94 L228.10 468.51 L228.91 468.07 L229.72 467.61 L230.52 467.14 L231.32 466.65 L232.10 466.15 L232.87 465.64 L233.64 465.11 L234.40 464.58 L235.14 464.02 L235.88 463.46 L236.61 462.88 L237.32 462.29 L238.03 461.68 L238.73 461.07 L239.41 460.44 L240.09 459.80 L240.75 459.15 L241.40 458.49 L242.04 457.81 L242.67 457.13 L243.28 456.43 L243.89 455.72 L244.48 455.01 L245.06 454.28 L245.62 453.54 L246.18 452.80 L246.71 452.04 L247.24 451.27 L247.75 450.50 L248.25 449.72 L248.74 448.92 L249.21 448.12 L249.67 447.31 L250.11 446.50 L250.54 445.67 L250.96 444.84 L251.36 444.00 L251.74 443.16 L252.11 442.30 L252.47 441.45 L252.81 440.58 L253.13 439.71 L253.44 438.83 L253.74 437.95 L254.02 437.07 L254.28 436.18 L254.53 435.28 L254.76 434.38 L254.98 433.48 L255.18 432.57 L255.37 431.66 L255.54 430.75 L255.69 429.83 L255.83 428.91 L255.95 427.99 L256.05 427.07 L256.14 426.14 L256.21 425.21 L256.27 424.29 L256.31 423.36 L256.34 422.43 L256.34 421.50 L256.34 420.57 L256.31 419.64 L256.27 418.71 L256.21 417.79 L256.14 416.86 L256.05 415.93 L255.95 415.01 L255.83 414.09 L255.69 413.17 L255.54 412.25 L255.37 411.34 L255.18 410.43 L254.98 409.52 L254.76 408.62 L254.53 407.72 L254.28 406.82 L254.02 405.93 L253.74 405.05 L253.44 404.17 L253.13 403.29 L252.81 402.42 L252.47 401.55 L252.11 400.70 L251.74 399.84 L251.36 399.00 L250.96 398.16 L250.54 397.33 L250.11 396.50 L249.67 395.69 L249.21 394.88 L248.74 394.08 L248.25 393.28 L247.75 392.50 L247.24 391.73 L246.71 390.96 L246.18 390.20 L245.62 389.46 L245.06 388.72 L244.48 387.99 L243.89 387.28 L243.28 386.57 L242.67 385.87 L242.04 385.19 L241.40 384.51 L240.75 383.85 L240.09 383.20 L239.41 382.56 L238.73 381.93 L238.03 381.32 L237.32 380.71 L236.61 380.12 L235.88 379.54 L235.14 378.98 L234.40 378.42 L233.64 377.89 L232.87 377.36 L232.10 376.85 L231.32 376.35 L230.52 375.86 L229.72 375.39 L228.91 374.93 L228.10 374.49 L227.27 374.06 L226.44 373.64 L225.60 373.24 L224.76 372.86 L223.90 372.49 L223.05 372.13 L222.18 371.79 L221.31 371.47 L220.43 371.16 L219.55 370.86 L218.67 370.58 L217.78 370.32 L216.88 370.07 L215.98 369.84 L215.08 369.62 L214.17 369.42 L213.26 369.23 L212.35 369.06 L211.43 368.91 L210.51 368.77 L209.59 368.65 L208.67 368.55 L207.74 368.46 L206.81 368.39 L205.89 368.33 L204.96 368.29 L204.03 368.26 L203.10 368.26" fill="none" stroke="#ff0000" stroke-width="1.05" stroke-linejoin="round"/>
<text x="203.00" y="301.00" class="tt" text-anchor="middle">Directivity(dBi)[Elevation @ Azimuth = 0]</text>
<line x1="554.10" y1="421.50" x2="653.10" y2="421.50" stroke="#d6d6d6" stroke-width="1"/>
<line x1="554.10" y1="421.50" x2="639.84" y2="372.00" stroke="#d6d6d6" stroke-width="1"/>
<line x1="554.10" y1="421.50" x2="603.60" y2="335.76" stroke="#d6d6d6" stroke-width="1"/>
<line x1="554.10" y1="421.50" x2="554.10" y2="322.50" stroke="#d6d6d6" stroke-width="1"/>
<line x1="554.10" y1="421.50" x2="504.60" y2="335.76" stroke="#d6d6d6" stroke-width="1"/>
<line x1="554.10" y1="421.50" x2="468.36" y2="372.00" stroke="#d6d6d6" stroke-width="1"/>
<line x1="554.10" y1="421.50" x2="455.10" y2="421.50" stroke="#d6d6d6" stroke-width="1"/>
<line x1="554.10" y1="421.50" x2="468.36" y2="471.00" stroke="#d6d6d6" stroke-width="1"/>
<line x1="554.10" y1="421.50" x2="504.60" y2="507.24" stroke="#d6d6d6" stroke-width="1"/>
<line x1="554.10" y1="421.50" x2="554.10" y2="520.50" stroke="#d6d6d6" stroke-width="1"/>
<line x1="554.10" y1="421.50" x2="603.60" y2="507.24" stroke="#d6d6d6" stroke-width="1"/>
<line x1="554.10" y1="421.50" x2="639.84" y2="471.00" stroke="#d6d6d6" stroke-width="1"/>
<circle cx="554.10" cy="421.50" r="28.29" fill="none" stroke="#d6d6d6" stroke-width="1"/>
<circle cx="554.10" cy="421.50" r="56.57" fill="none" stroke="#d6d6d6" stroke-width="1"/>
<circle cx="554.10" cy="421.50" r="70.71" fill="none" stroke="#d6d6d6" stroke-width="1"/>
<circle cx="554.10" cy="421.50" r="84.86" fill="none" stroke="#d6d6d6" stroke-width="1"/>
<circle cx="554.10" cy="421.50" r="99.00" fill="none" stroke="#adadad" stroke-width="1"/>
<text x="554.00" y="317.15" class="tk" text-anchor="middle">90</text>
<text x="610.50" y="330.35" class="tk" text-anchor="middle">60</text>
<text x="647.80" y="368.25" class="tk" text-anchor="middle">30</text>
<text x="658.60" y="426.05" class="tk" text-anchor="middle">0</text>
<text x="651.00" y="483.25" class="tk" text-anchor="middle">330</text>
<text x="613.80" y="521.25" class="tk" text-anchor="middle">300</text>
<text x="554.00" y="533.55" class="tk" text-anchor="middle">270</text>
<text x="494.20" y="521.25" class="tk" text-anchor="middle">240</text>
<text x="457.00" y="483.25" class="tk" text-anchor="middle">210</text>
<text x="443.80" y="426.05" class="tk" text-anchor="middle">180</text>
<text x="456.60" y="368.25" class="tk" text-anchor="middle">150</text>
<text x="494.20" y="330.35" class="tk" text-anchor="middle">120</text>
<rect x="564.36" y="319.00" width="13.87" height="10" fill="#fff"/>
<text x="571.29" y="327.85" class="tk" text-anchor="middle">30</text>
<rect x="561.90" y="332.93" width="13.87" height="10" fill="#fff"/>
<text x="568.84" y="341.78" class="tk" text-anchor="middle">20</text>
<rect x="559.45" y="346.86" width="13.87" height="10" fill="#fff"/>
<text x="566.38" y="355.71" class="tk" text-anchor="middle">10</text>
<rect x="559.96" y="360.79" width="7.93" height="10" fill="#fff"/>
<text x="563.92" y="369.64" class="tk" text-anchor="middle">0</text>
<rect x="550.30" y="388.64" width="17.42" height="10" fill="#fff"/>
<text x="559.01" y="397.49" class="tk" text-anchor="middle">-20</text>
<rect x="545.39" y="416.50" width="17.42" height="10" fill="#fff"/>
<text x="554.10" y="425.35" class="tk" text-anchor="middle">-40</text>
<path d="M554.10 421.50 L554.10 421.50 L554.10 421.50 L554.10 421.50 L554.10 421.50 L554.10 421.50 L554.10 421.50 L554.10 421.50 L554.10 421.50 L554.10 421.50 L554.10 421.50 L554.10 421.50 L554.10 421.50 L554.10 421.50 L554.10 421.50 L554.10 421.50 L554.10 421.50 L554.10 421.50 L554.10 421.50 L554.10 421.50 L554.10 421.50 L554.10 421.50 L554.10 421.50 L554.10 421.50 L554.10 421.50 L554.10 421.50 L554.10 421.50 L554.10 421.50 L554.10 421.50 L554.10 421.50 L554.10 421.50 L554.10 421.50 L554.10 421.50 L554.10 421.50 L554.10 421.50 L554.10 421.50 L554.10 421.50 L554.10 421.50 L554.10 421.50 L554.10 421.50 L554.10 421.50 L554.10 421.50 L554.10 421.50 L554.10 421.50 L554.10 421.50 L554.10 421.50 L554.10 421.50 L554.10 421.50 L554.10 421.50 L554.10 421.50 L554.10 421.50 L554.10 421.50 L554.10 421.50 L554.10 421.50 L554.10 421.50 L554.10 421.50 L554.10 421.50 L554.10 421.50 L554.10 421.50 L554.10 421.50 L554.10 421.50 L554.10 421.50 L554.10 421.50 L554.10 421.50 L554.10 421.50 L554.10 421.50 L554.10 421.50 L554.10 421.50 L554.10 421.50 L554.10 421.50 L554.10 421.50 L554.10 421.50 L554.10 421.50 L554.10 421.50 L554.10 421.50 L554.10 421.50 L554.10 421.50 L554.10 421.50 L554.10 421.50 L554.10 421.50 L554.10 421.50 L554.10 421.50 L554.10 421.50 L554.10 421.50 L554.10 421.50 L554.10 421.50 L554.10 421.50 L554.10 421.50 L554.10 421.50 L554.10 421.50 L554.10 485.83 L555.22 485.81 L556.34 485.76 L557.46 485.68 L558.58 485.56 L559.69 485.41 L560.80 485.23 L561.90 485.01 L562.99 484.75 L564.07 484.47 L565.15 484.14 L566.21 483.78 L567.26 483.39 L568.29 482.96 L569.31 482.49 L570.31 481.98 L571.29 481.44 L572.25 480.86 L573.18 480.23 L574.09 479.57 L574.98 478.86 L575.83 478.11 L576.65 477.31 L577.43 476.46 L578.17 475.57 L578.87 474.62 L579.52 473.62 L580.12 472.56 L580.65 471.43 L581.12 470.24 L581.51 468.97 L581.81 467.62 L582.01 466.17 L582.10 464.61 L582.04 462.92 L581.80 461.07 L581.35 459.01 L580.60 456.67 L579.43 453.93 L577.62 450.55 L574.62 445.96 L568.55 438.12 L556.53 424.20 L572.09 440.79 L577.55 445.78 L581.13 448.53 L583.87 450.25 L586.14 451.38 L588.09 452.11 L589.81 452.54 L591.34 452.75 L592.73 452.78 L593.98 452.66 L595.12 452.41 L596.15 452.05 L597.09 451.60 L597.92 451.06 L598.65 450.43 L599.29 449.74 L599.84 448.98 L600.28 448.16 L600.61 447.28 L600.83 446.35 L600.94 445.37 L600.91 444.33 L600.75 443.25 L600.42 442.12 L599.91 440.95 L599.19 439.72 L598.22 438.44 L596.93 437.09 L595.21 435.66 L592.91 434.11 L589.68 432.38 L584.76 430.29 L575.37 427.20 L558.91 422.70 L580.42 427.58 L587.77 428.66 L592.33 428.93 L595.63 428.82 L598.18 428.48 L600.23 427.98 L601.91 427.37 L603.29 426.67 L604.43 425.90 L605.37 425.08 L606.11 424.23 L606.68 423.34 L607.09 422.42 L607.34 421.50 L607.44 420.57 L607.39 419.64 L607.18 418.72 L606.80 417.81 L606.24 416.94 L605.49 416.10 L604.52 415.31 L603.29 414.59 L601.73 413.96 L599.76 413.45 L597.21 413.12 L593.73 413.08 L588.55 413.55 L578.69 415.37 L565.43 418.46 L584.89 412.67 L591.90 409.94 L596.20 407.82 L599.25 405.95 L601.57 404.22 L603.38 402.58 L604.84 401.00 L606.01 399.46 L606.96 397.97 L607.72 396.50 L608.31 395.06 L608.77 393.65 L609.10 392.26 L609.31 390.89 L609.43 389.55 L609.46 388.24 L609.40 386.95 L609.26 385.68 L609.04 384.44 L608.76 383.22 L608.42 382.03 L608.02 380.87 L607.56 379.74 L607.04 378.63 L606.48 377.55 L605.87 376.50 L605.22 375.48 L604.52 374.48 L603.78 373.52 L603.01 372.59 L602.20 371.69 L601.36 370.82 L600.49 369.98 L599.59 369.17 L598.67 368.39 L597.72 367.64 L596.74 366.92 L595.74 366.24 L594.73 365.58 L593.69 364.96 L592.64 364.36 L591.57 363.80 L590.49 363.26 L589.40 362.75 L588.29 362.27 L587.18 361.82 L586.06 361.40 L584.92 361.00 L583.79 360.63 L582.64 360.29 L581.50 359.96 L580.35 359.67 L579.19 359.39 L578.04 359.14 L576.88 358.90 L575.73 358.69 L574.57 358.49 L573.42 358.32 L572.26 358.16 L571.11 358.01 L569.96 357.89 L568.81 357.77 L567.67 357.67 L566.53 357.58 L565.38 357.50 L564.25 357.43 L563.11 357.37 L561.98 357.32 L560.85 357.28 L559.72 357.25 L558.60 357.22 L557.47 357.20 L556.35 357.18 L555.22 357.17 L554.10 357.17 L554.10 421.50 L554.10 421.50 L554.10 421.50 L554.10 421.50 L554.10 421.50 L554.10 421.50 L554.10 421.50 L554.10 421.50 L554.10 421.50 L554.10 421.50 L554.10 421.50 L554.10 421.50 L554.10 421.50 L554.10 421.50 L554.10 421.50 L554.10 421.50 L554.10 421.50 L554.10 421.50 L554.10 421.50 L554.10 421.50 L554.10 421.50 L554.10 421.50 L554.10 421.50 L554.10 421.50 L554.10 421.50 L554.10 421.50 L554.10 421.50 L554.10 421.50 L554.10 421.50 L554.10 421.50 L554.10 421.50 L554.10 421.50 L554.10 421.50 L554.10 421.50 L554.10 421.50 L554.10 421.50 L554.10 421.50 L554.10 421.50 L554.10 421.50 L554.10 421.50 L554.10 421.50 L554.10 421.50 L554.10 421.50 L554.10 421.50 L554.10 421.50 L554.10 421.50 L554.10 421.50 L554.10 421.50 L554.10 421.50 L554.10 421.50 L554.10 421.50 L554.10 421.50 L554.10 421.50 L554.10 421.50 L554.10 421.50 L554.10 421.50 L554.10 421.50 L554.10 421.50 L554.10 421.50 L554.10 421.50 L554.10 421.50 L554.10 421.50 L554.10 421.50 L554.10 421.50 L554.10 421.50 L554.10 421.50 L554.10 421.50 L554.10 421.50 L554.10 421.50 L554.10 421.50 L554.10 421.50 L554.10 421.50 L554.10 421.50 L554.10 421.50 L554.10 421.50 L554.10 421.50 L554.10 421.50 L554.10 421.50 L554.10 421.50 L554.10 421.50 L554.10 421.50 L554.10 421.50 L554.10 421.50 L554.10 421.50 L554.10 421.50 L554.10 421.50 L554.10 421.50 L554.10 421.50 L554.10 421.50 L554.10 421.50" fill="none" stroke="#ff0000" stroke-width="1.05" stroke-linejoin="round"/>
<text x="554.00" y="301.00" class="tt" text-anchor="middle">Directivity(dBi)[Azimuth @ Elevation = 0]</text>
</svg></body></html>
